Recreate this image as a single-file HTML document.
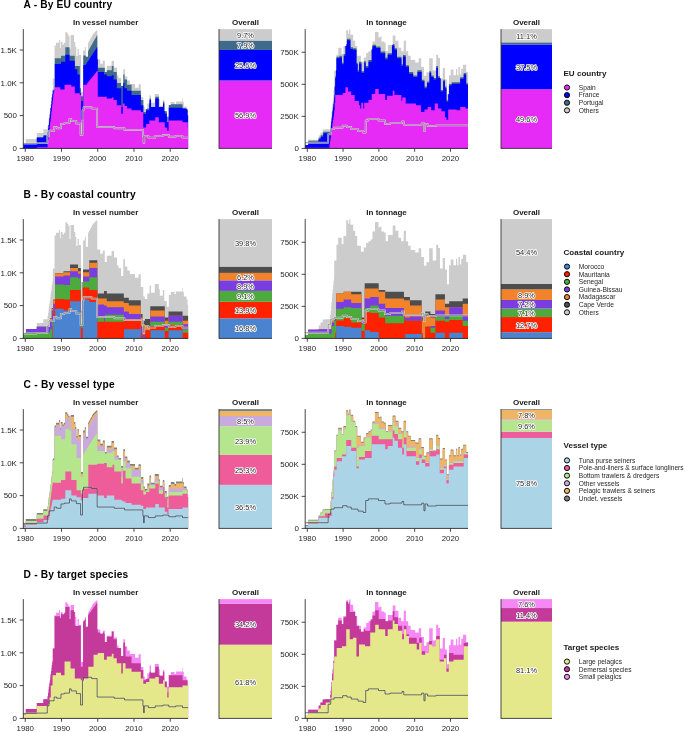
<!DOCTYPE html>
<html><head><meta charset="utf-8"><style>html,body{margin:0;padding:0;background:#fff;width:685px;height:732px;overflow:hidden}</style></head>
<body><svg width="685" height="732" viewBox="0 0 685 732" style="display:block;will-change:transform;font-family:'Liberation Sans', sans-serif"><rect width="685" height="732" fill="#fff"/><text x="23.6" y="8.1" font-size="10.2" font-weight="bold" fill="#000" textLength="88.5" lengthAdjust="spacing">A - By EU country</text><text x="105.70" y="24.55" font-size="8.0" font-weight="bold" text-anchor="middle" fill="#1a1a1a" >In vessel number</text><text x="245.50" y="24.55" font-size="8.0" font-weight="bold" text-anchor="middle" fill="#1a1a1a" >Overall</text><text x="386.60" y="24.55" font-size="8.0" font-weight="bold" text-anchor="middle" fill="#1a1a1a" >In tonnage</text><text x="526.50" y="24.55" font-size="8.0" font-weight="bold" text-anchor="middle" fill="#1a1a1a" >Overall</text><path d="M23.30,148.40L23.30,143.90L25.80,143.90L25.80,139.10L36.80,139.10L36.80,132.90L43.30,132.90L43.30,129.30L47.55,129.30L47.55,126.15L48.05,126.15L48.05,123.01L48.55,123.01L48.55,119.86L48.80,119.86L48.80,116.72L49.30,116.72L49.30,113.57L49.80,113.57L49.80,110.42L50.30,110.42L50.30,107.28L50.55,107.28L50.55,104.13L51.05,104.13L51.05,100.98L51.55,100.98L51.55,97.84L51.80,97.84L51.80,94.69L52.30,94.69L52.30,91.55L52.80,91.55L52.80,78.40L54.55,78.40L54.55,45.40L56.05,45.40L56.05,42.80L59.05,42.80L59.05,40.10L60.05,40.10L60.05,48.00L60.80,48.00L60.80,41.90L62.55,41.90L62.55,44.50L63.80,44.50L63.80,42.80L65.30,42.80L65.30,32.30L67.30,32.30L67.30,34.00L68.30,34.00L68.30,35.80L69.55,35.80L69.55,48.90L70.55,48.90L70.55,35.80L70.80,35.80L70.80,34.90L74.05,34.90L74.05,41.90L75.30,41.90L75.30,47.10L76.30,47.10L76.30,55.90L77.55,55.90L77.55,48.90L78.80,48.90L78.80,55.00L81.05,55.00L81.05,91.90L83.05,91.90L83.05,50.60L84.80,50.60L84.80,47.10L85.80,47.10L85.80,56.80L88.05,56.80L88.05,42.80L88.55,42.80L88.55,42.00L88.80,42.00L88.80,41.20L89.30,41.20L89.30,40.40L89.80,40.40L89.80,39.60L90.30,39.60L90.30,38.80L90.55,38.80L90.55,38.00L91.05,38.00L91.05,37.20L91.55,37.20L91.55,36.40L92.05,36.40L92.05,35.60L92.30,35.60L92.30,34.80L92.80,34.80L92.80,34.00L93.30,34.00L93.30,33.56L93.80,33.56L93.80,33.12L94.05,33.12L94.05,32.68L94.55,32.68L94.55,32.24L95.05,32.24L95.05,31.80L95.55,31.80L95.55,31.36L95.80,31.36L95.80,30.92L96.30,30.92L96.30,30.48L96.80,30.48L96.80,30.04L97.30,30.04L97.30,59.40L100.30,59.40L100.30,63.80L102.80,63.80L102.80,60.50L104.80,60.50L104.80,71.90L106.80,71.90L106.80,65.80L111.55,65.80L111.55,60.90L114.05,60.90L114.05,67.50L117.05,67.50L117.05,75.40L118.55,75.40L118.55,78.00L121.05,78.00L121.05,85.90L123.30,85.90L123.30,69.30L125.05,69.30L125.05,76.40L127.30,76.40L127.30,80.60L129.80,80.60L129.80,83.90L135.05,83.90L135.05,87.70L138.55,87.70L138.55,84.20L140.80,84.20L140.80,97.30L141.30,97.30L141.30,97.00L143.30,97.00L143.30,106.50L144.80,106.50L144.80,108.90L147.30,108.90L147.30,103.60L149.55,103.60L149.55,95.50L151.05,95.50L151.05,102.80L154.80,102.80L154.80,94.10L158.80,94.10L158.80,99.20L159.80,99.20L159.80,105.80L162.80,105.80L162.80,99.90L164.30,99.90L164.30,110.90L166.80,110.90L166.80,116.70L168.80,116.70L168.80,105.00L170.80,105.00L170.80,102.10L174.55,102.10L174.55,103.90L176.05,103.90L176.05,101.40L182.55,101.40L182.55,97.80L183.05,97.80L183.05,102.10L183.80,102.10L183.80,106.50L186.55,106.50L186.55,109.40L187.55,109.40L187.55,115.30L188.10,115.30L188.10,148.40Z" fill="#cccccc"/><path d="M23.30,148.40L23.30,144.11L36.80,144.11L36.80,137.46L43.55,137.46L43.55,135.41L47.80,135.41L47.80,131.97L48.05,131.97L48.05,128.53L48.55,128.53L48.55,125.09L49.05,125.09L49.05,121.65L49.30,121.65L49.30,118.21L49.80,118.21L49.80,114.77L50.30,114.77L50.30,111.33L50.55,111.33L50.55,107.90L51.05,107.90L51.05,104.46L51.55,104.46L51.55,101.02L51.80,101.02L51.80,97.58L52.30,97.58L52.30,94.14L52.80,94.14L52.80,89.85L54.80,89.85L54.80,58.28L61.05,58.28L61.05,55.72L65.30,55.72L65.30,47.18L69.55,47.18L69.55,55.72L74.80,55.72L74.80,65.96L79.80,65.96L79.80,88.14L81.05,88.14L81.05,96.16L83.30,96.16L83.30,55.38L85.80,55.38L85.80,56.80L88.05,56.80L88.05,51.23L88.30,51.23L88.30,50.50L88.80,50.50L88.80,49.78L89.05,49.78L89.05,49.05L89.55,49.05L89.55,48.32L90.05,48.32L90.05,47.60L90.30,47.60L90.30,46.87L90.80,46.87L90.80,46.14L91.05,46.14L91.05,45.41L91.55,45.41L91.55,44.69L92.05,44.69L92.05,43.96L92.30,43.96L92.30,43.23L92.80,43.23L92.80,42.51L93.30,42.51L93.30,41.78L93.55,41.78L93.55,41.05L94.05,41.05L94.05,40.33L94.55,40.33L94.55,39.60L94.80,39.60L94.80,38.87L95.30,38.87L95.30,38.15L95.80,38.15L95.80,37.42L96.05,37.42L96.05,36.69L96.55,36.69L96.55,35.97L96.80,35.97L96.80,35.24L97.30,35.24L97.30,59.40L97.80,59.40L97.80,67.66L104.80,67.66L104.80,71.90L106.80,71.90L106.80,70.22L111.80,70.22L111.80,65.96L113.55,65.96L113.55,71.93L116.80,71.93L116.80,83.02L121.05,83.02L121.05,85.90L123.30,85.90L123.30,74.49L124.55,74.49L124.55,79.61L127.05,79.61L127.05,84.73L131.55,84.73L131.55,90.70L140.80,90.70L140.80,100.09L143.30,100.09L143.30,112.03L146.05,112.03L146.05,108.90L147.30,108.90L147.30,108.62L149.30,108.62L149.30,103.60L149.55,103.60L149.55,98.38L151.05,98.38L151.05,106.91L155.30,106.91L155.30,96.67L158.80,96.67L158.80,106.91L163.05,106.91L163.05,101.79L164.30,101.79L164.30,110.90L164.80,110.90L164.80,111.18L166.80,111.18L166.80,116.70L167.30,116.70L167.30,122.27L168.55,122.27L168.55,116.70L168.80,116.70L168.80,105.00L170.80,105.00L170.80,104.35L182.55,104.35L182.55,108.62L186.55,108.62L186.55,109.40L187.55,109.40L187.55,115.30L188.10,115.30L188.10,148.40Z" fill="#3f6a8c"/><path d="M23.30,148.40L23.30,144.11L36.80,144.11L36.80,137.46L43.55,137.46L43.55,135.41L47.80,135.41L47.80,131.97L48.05,131.97L48.05,128.53L48.55,128.53L48.55,125.09L49.05,125.09L49.05,121.65L49.30,121.65L49.30,118.21L49.80,118.21L49.80,114.77L50.30,114.77L50.30,111.33L50.55,111.33L50.55,107.90L51.05,107.90L51.05,104.46L51.55,104.46L51.55,101.02L51.80,101.02L51.80,97.58L52.30,97.58L52.30,94.14L52.80,94.14L52.80,90.70L54.80,90.70L54.80,63.91L61.05,63.91L61.05,61.69L65.30,61.69L65.30,54.86L69.55,54.86L69.55,60.84L74.80,60.84L74.80,69.37L77.30,69.37L77.30,74.49L79.80,74.49L79.80,93.26L81.05,93.26L81.05,101.11L83.30,101.11L83.30,65.10L85.80,65.10L85.80,64.25L86.30,64.25L86.30,63.62L86.55,63.62L86.55,62.99L87.05,62.99L87.05,62.35L87.55,62.35L87.55,61.72L87.80,61.72L87.80,61.09L88.30,61.09L88.30,60.46L88.80,60.46L88.80,59.82L89.05,59.82L89.05,59.19L89.55,59.19L89.55,58.56L90.05,58.56L90.05,57.93L90.30,57.93L90.30,57.30L90.80,57.30L90.80,56.66L91.05,56.66L91.05,56.03L91.55,56.03L91.55,55.40L92.05,55.40L92.05,54.77L92.30,54.77L92.30,54.14L92.80,54.14L92.80,53.50L93.30,53.50L93.30,52.87L93.55,52.87L93.55,52.24L94.05,52.24L94.05,51.61L94.55,51.61L94.55,50.98L94.80,50.98L94.80,50.34L95.30,50.34L95.30,49.71L95.80,49.71L95.80,49.08L96.05,49.08L96.05,48.45L96.55,48.45L96.55,47.82L96.80,47.82L96.80,47.18L97.30,47.18L97.30,59.40L97.80,59.40L97.80,71.93L104.05,71.93L104.05,74.49L106.80,74.49L106.80,76.19L111.80,76.19L111.80,75.34L113.55,75.34L113.55,79.61L116.80,79.61L116.80,88.14L121.30,88.14L121.30,106.91L122.80,106.91L122.80,85.90L123.30,85.90L123.30,83.02L124.55,83.02L124.55,88.14L127.05,88.14L127.05,90.70L131.55,90.70L131.55,94.97L140.80,94.97L140.80,105.20L143.30,105.20L143.30,113.74L146.05,113.74L146.05,110.32L149.30,110.32L149.30,103.60L149.55,103.60L149.55,100.09L151.05,100.09L151.05,106.91L155.30,106.91L155.30,98.38L158.80,98.38L158.80,106.91L163.05,106.91L163.05,103.50L164.30,103.50L164.30,110.90L164.80,110.90L164.80,113.74L166.80,113.74L166.80,116.70L167.30,116.70L167.30,122.27L168.55,122.27L168.55,116.70L168.80,116.70L168.80,107.76L182.55,107.76L182.55,108.62L186.55,108.62L186.55,109.40L187.55,109.40L187.55,115.30L188.10,115.30L188.10,148.40Z" fill="#0000ff"/><path d="M23.30,148.40L23.30,148.38L36.80,148.38L36.80,147.35L47.30,147.35L47.30,147.18L47.55,147.18L47.55,143.62L48.05,143.62L48.05,140.05L48.55,140.05L48.55,136.49L48.80,136.49L48.80,132.93L49.30,132.93L49.30,129.36L49.80,129.36L49.80,125.80L50.05,125.80L50.05,122.23L50.55,122.23L50.55,118.67L51.05,118.67L51.05,115.10L51.30,115.10L51.30,111.54L51.80,111.54L51.80,107.97L52.05,107.97L52.05,104.41L52.55,104.41L52.55,100.84L53.05,100.84L53.05,97.28L53.30,97.28L53.30,93.71L53.80,93.71L53.80,90.70L54.80,90.70L54.80,87.29L60.30,87.29L60.30,89.51L64.55,89.51L64.55,84.73L71.30,84.73L71.30,86.43L74.80,86.43L74.80,93.26L79.80,93.26L79.80,94.97L81.05,94.97L81.05,119.71L83.30,119.71L83.30,84.73L86.80,84.73L86.80,83.87L87.05,83.87L87.05,83.36L87.55,83.36L87.55,82.85L87.80,82.85L87.80,82.34L88.30,82.34L88.30,81.83L88.80,81.83L88.80,81.31L89.05,81.31L89.05,80.80L89.55,80.80L89.55,80.29L90.05,80.29L90.05,79.78L90.30,79.78L90.30,79.27L90.80,79.27L90.80,78.75L91.30,78.75L91.30,78.24L91.55,78.24L91.55,77.73L92.05,77.73L92.05,77.22L92.30,77.22L92.30,76.71L92.80,76.71L92.80,76.19L93.30,76.19L93.30,75.68L93.55,75.68L93.55,75.17L94.05,75.17L94.05,74.66L94.55,74.66L94.55,74.15L94.80,74.15L94.80,73.63L95.30,73.63L95.30,73.12L95.80,73.12L95.80,72.61L96.05,72.61L96.05,72.10L96.55,72.10L96.55,71.59L96.80,71.59L96.80,71.08L97.80,71.08L97.80,96.67L106.80,96.67L106.80,98.38L111.80,98.38L111.80,97.53L113.55,97.53L113.55,100.09L116.80,100.09L116.80,105.20L121.30,105.20L121.30,113.74L122.80,113.74L122.80,103.50L124.55,103.50L124.55,106.06L127.05,106.06L127.05,108.62L131.55,108.62L131.55,110.32L140.80,110.32L140.80,112.03L143.30,112.03L143.30,127.39L146.05,127.39L146.05,123.98L149.30,123.98L149.30,120.56L155.30,120.56L155.30,117.15L158.80,117.15L158.80,122.27L164.80,122.27L164.80,127.39L167.30,127.39L167.30,130.80L168.55,130.80L168.55,120.56L182.55,120.56L182.55,122.27L187.80,122.27L187.80,127.39L188.10,127.39L188.10,148.40Z" fill="#e52bf5"/><path d="M23.30,143.43L36.72,143.43L36.72,143.09L47.30,143.09L47.30,135.92L49.01,135.92L49.01,130.80L54.13,130.80L54.13,127.05L56.69,127.05L56.69,128.24L60.96,128.24L60.96,123.98L64.37,123.98L64.37,123.12L69.49,123.12L69.49,118.86L71.19,118.86L71.19,120.90L76.31,120.90L76.31,123.63L80.58,123.63L80.58,135.07L82.46,135.07L82.46,110.32L83.48,110.32L83.48,107.25L91.67,107.25L91.67,108.62L97.13,108.62L97.13,127.05L104.00,127.05L104.00,127.05L114.24,127.05L114.24,128.24L124.48,128.24L124.48,129.95L142.91,129.95L142.91,135.92L143.59,135.92L143.59,142.75L144.27,142.75L144.27,135.92L148.37,135.92L148.37,137.63L155.19,137.63L155.19,135.92L162.87,135.92L162.87,135.07L168.85,135.07L168.85,136.77L175.67,136.77L175.67,135.92L182.50,135.92L182.50,137.63L188.10,137.63" fill="none" stroke="#ffffff" stroke-opacity="0.7" stroke-width="1.9" stroke-linejoin="round"/><path d="M23.30,143.43L36.72,143.43L36.72,143.09L47.30,143.09L47.30,135.92L49.01,135.92L49.01,130.80L54.13,130.80L54.13,127.05L56.69,127.05L56.69,128.24L60.96,128.24L60.96,123.98L64.37,123.98L64.37,123.12L69.49,123.12L69.49,118.86L71.19,118.86L71.19,120.90L76.31,120.90L76.31,123.63L80.58,123.63L80.58,135.07L82.46,135.07L82.46,110.32L83.48,110.32L83.48,107.25L91.67,107.25L91.67,108.62L97.13,108.62L97.13,127.05L104.00,127.05L104.00,127.05L114.24,127.05L114.24,128.24L124.48,128.24L124.48,129.95L142.91,129.95L142.91,135.92L143.59,135.92L143.59,142.75L144.27,142.75L144.27,135.92L148.37,135.92L148.37,137.63L155.19,137.63L155.19,135.92L162.87,135.92L162.87,135.07L168.85,135.07L168.85,136.77L175.67,136.77L175.67,135.92L182.50,135.92L182.50,137.63L188.10,137.63" fill="none" stroke="#6a6a6a" stroke-width="0.7" stroke-linejoin="round"/><line x1="23.3" y1="29.1" x2="23.3" y2="148.9" stroke="#333333" stroke-width="0.9"/><line x1="19.7" y1="148.40" x2="23.3" y2="148.40" stroke="#333333" stroke-width="0.9"/><text x="16.90" y="151.25" font-size="7.95" font-weight="normal" text-anchor="end" fill="#262626" >0</text><line x1="19.7" y1="115.60" x2="23.3" y2="115.60" stroke="#333333" stroke-width="0.9"/><text x="16.90" y="118.45" font-size="7.95" font-weight="normal" text-anchor="end" fill="#262626" >500</text><line x1="19.7" y1="82.80" x2="23.3" y2="82.80" stroke="#333333" stroke-width="0.9"/><text x="16.90" y="85.65" font-size="7.95" font-weight="normal" text-anchor="end" fill="#262626" >1.0K</text><line x1="19.7" y1="50.00" x2="23.3" y2="50.00" stroke="#333333" stroke-width="0.9"/><text x="16.90" y="52.85" font-size="7.95" font-weight="normal" text-anchor="end" fill="#262626" >1.5K</text><line x1="23.3" y1="148.4" x2="188.1" y2="148.4" stroke="#333333" stroke-width="0.9"/><line x1="25.25" y1="148.4" x2="25.25" y2="151.8" stroke="#333333" stroke-width="0.9"/><text x="25.25" y="161.15" font-size="7.85" font-weight="normal" text-anchor="middle" fill="#262626" >1980</text><line x1="61.49" y1="148.4" x2="61.49" y2="151.8" stroke="#333333" stroke-width="0.9"/><text x="61.49" y="161.15" font-size="7.85" font-weight="normal" text-anchor="middle" fill="#262626" >1990</text><line x1="97.73" y1="148.4" x2="97.73" y2="151.8" stroke="#333333" stroke-width="0.9"/><text x="97.73" y="161.15" font-size="7.85" font-weight="normal" text-anchor="middle" fill="#262626" >2000</text><line x1="133.97" y1="148.4" x2="133.97" y2="151.8" stroke="#333333" stroke-width="0.9"/><text x="133.97" y="161.15" font-size="7.85" font-weight="normal" text-anchor="middle" fill="#262626" >2010</text><line x1="170.21" y1="148.4" x2="170.21" y2="151.8" stroke="#333333" stroke-width="0.9"/><text x="170.21" y="161.15" font-size="7.85" font-weight="normal" text-anchor="middle" fill="#262626" >2020</text><path d="M305.20,148.40L305.20,145.00L308.20,145.00L308.20,139.80L318.70,139.80L318.70,135.60L320.45,135.60L320.45,132.40L322.70,132.40L322.70,129.60L324.95,129.60L324.95,129.20L330.20,129.20L330.20,124.92L330.70,124.92L330.70,120.64L331.20,120.64L331.20,116.36L331.45,116.36L331.45,112.08L331.95,112.08L331.95,107.80L332.20,107.80L332.20,103.52L332.70,103.52L332.70,99.24L333.20,99.24L333.20,94.96L333.45,94.96L333.45,90.68L333.95,90.68L333.95,86.40L334.20,86.40L334.20,70.50L336.45,70.50L336.45,54.80L338.20,54.80L338.20,47.80L341.70,47.80L341.70,53.90L343.45,53.90L343.45,46.00L346.20,46.00L346.20,30.30L348.20,30.30L348.20,33.80L349.20,33.80L349.20,29.40L350.45,29.40L350.45,34.80L353.20,34.80L353.20,40.80L355.20,40.80L355.20,46.00L357.20,46.00L357.20,55.70L360.95,55.70L360.95,61.80L363.70,61.80L363.70,57.40L366.20,57.40L366.20,53.00L368.45,53.00L368.45,51.30L370.70,51.30L370.70,49.50L372.45,49.50L372.45,41.60L374.95,41.60L374.95,32.00L378.45,32.00L378.45,37.30L380.20,37.30L380.20,36.40L381.45,36.40L381.45,41.60L383.95,41.60L383.95,42.50L385.70,42.50L385.70,51.30L387.95,51.30L387.95,45.10L392.70,45.10L392.70,35.50L395.45,35.50L395.45,40.80L398.45,40.80L398.45,47.80L401.20,47.80L401.20,51.30L403.70,51.30L403.70,40.80L405.95,40.80L405.95,51.30L408.20,51.30L408.20,55.70L410.70,55.70L410.70,60.00L415.20,60.00L415.20,62.60L418.70,62.60L418.70,58.30L421.20,58.30L421.20,67.00L423.95,67.00L423.95,75.80L426.45,75.80L426.45,72.30L429.20,72.30L429.20,58.30L432.70,58.30L432.70,70.40L436.20,70.40L436.20,54.80L438.20,54.80L438.20,58.10L439.95,58.10L439.95,78.60L442.70,78.60L442.70,68.00L444.95,68.00L444.95,79.40L446.95,79.40L446.95,94.20L448.95,94.20L448.95,75.30L450.70,75.30L450.70,69.60L453.45,69.60L453.45,75.30L455.95,75.30L455.95,68.80L457.20,68.80L457.20,75.30L458.45,75.30L458.45,67.10L459.95,67.10L459.95,74.50L461.20,74.50L461.20,68.80L462.95,68.80L462.95,64.70L466.20,64.70L466.20,72.00L468.00,72.00L468.00,148.40Z" fill="#cccccc"/><path d="M305.20,148.40L305.20,145.00L308.20,145.00L308.20,140.81L318.45,140.81L318.45,139.80L318.70,139.80L318.70,137.73L320.70,137.73L320.70,135.17L323.20,135.17L323.20,131.76L329.95,131.76L329.95,131.42L330.45,131.42L330.45,127.79L330.95,127.79L330.95,124.15L331.20,124.15L331.20,120.52L331.70,120.52L331.70,116.88L332.20,116.88L332.20,113.25L332.45,113.25L332.45,109.61L332.95,109.61L332.95,105.98L333.45,105.98L333.45,102.34L333.95,102.34L333.95,98.71L334.20,98.71L334.20,95.07L334.70,95.07L334.70,85.69L335.20,85.69L335.20,76.30L335.95,76.30L335.95,70.50L336.45,70.50L336.45,56.68L339.45,56.68L339.45,55.82L341.95,55.82L341.95,62.65L343.70,62.65L343.70,54.12L345.45,54.12L345.45,46.00L346.20,46.00L346.20,43.88L346.95,43.88L346.95,38.76L350.45,38.76L350.45,47.29L352.95,47.29L352.95,48.14L356.45,48.14L356.45,62.65L357.70,62.65L357.70,70.33L358.95,70.33L358.95,61.80L360.95,61.80L360.95,61.80L361.45,61.80L361.45,71.18L364.20,71.18L364.20,60.94L365.70,60.94L365.70,66.06L368.45,66.06L368.45,60.09L371.70,60.09L371.70,49.50L372.45,49.50L372.45,44.73L375.95,44.73L375.95,46.44L380.45,46.44L380.45,51.56L385.20,51.56L385.20,57.53L387.70,57.53L387.70,53.26L391.95,53.26L391.95,45.10L392.70,45.10L392.70,43.88L394.45,43.88L394.45,48.14L396.95,48.14L396.95,56.68L401.45,56.68L401.45,64.36L402.95,64.36L402.95,54.97L405.70,54.97L405.70,65.21L408.95,65.21L408.95,72.03L413.20,72.03L413.20,75.45L417.45,75.45L417.45,70.33L421.70,70.33L421.70,79.71L424.45,79.71L424.45,86.54L426.95,86.54L426.95,81.42L429.45,81.42L429.45,71.18L431.20,71.18L431.20,75.45L433.70,75.45L433.70,78.01L436.20,78.01L436.20,66.06L437.95,66.06L437.95,76.30L439.95,76.30L439.95,78.60L440.70,78.60L440.70,89.95L443.20,89.95L443.20,79.71L444.95,79.71L444.95,86.54L446.45,86.54L446.45,100.19L448.20,100.19L448.20,94.20L448.95,94.20L448.95,83.98L451.70,83.98L451.70,82.27L460.20,82.27L460.20,77.15L463.70,77.15L463.70,72.89L466.20,72.89L466.20,83.13L468.00,83.13L468.00,148.40Z" fill="#3f6a8c"/><path d="M305.20,148.40L305.20,145.00L308.20,145.00L308.20,142.41L318.45,142.41L318.45,139.80L318.70,139.80L318.70,139.33L320.70,139.33L320.70,136.77L323.20,136.77L323.20,133.36L329.95,133.36L329.95,133.02L330.45,133.02L330.45,129.39L330.95,129.39L330.95,125.75L331.20,125.75L331.20,122.12L331.70,122.12L331.70,118.48L332.20,118.48L332.20,114.85L332.45,114.85L332.45,111.21L332.95,111.21L332.95,107.58L333.45,107.58L333.45,103.94L333.95,103.94L333.95,100.31L334.20,100.31L334.20,96.67L334.70,96.67L334.70,87.29L335.20,87.29L335.20,77.90L335.95,77.90L335.95,70.50L336.45,70.50L336.45,58.28L339.45,58.28L339.45,57.42L341.95,57.42L341.95,64.25L343.70,64.25L343.70,55.72L345.45,55.72L345.45,46.00L346.20,46.00L346.20,45.48L346.95,45.48L346.95,40.36L350.45,40.36L350.45,48.89L352.95,48.89L352.95,49.74L356.45,49.74L356.45,64.25L357.70,64.25L357.70,71.93L358.95,71.93L358.95,63.40L361.45,63.40L361.45,72.78L364.20,72.78L364.20,62.54L365.70,62.54L365.70,67.66L368.45,67.66L368.45,61.69L371.70,61.69L371.70,49.50L372.45,49.50L372.45,46.33L375.95,46.33L375.95,48.04L380.45,48.04L380.45,53.16L385.20,53.16L385.20,59.13L387.70,59.13L387.70,54.86L391.95,54.86L391.95,45.48L394.45,45.48L394.45,49.74L396.95,49.74L396.95,58.28L401.45,58.28L401.45,65.96L402.95,65.96L402.95,56.57L405.70,56.57L405.70,66.81L408.95,66.81L408.95,73.63L413.20,73.63L413.20,77.05L417.45,77.05L417.45,71.93L421.70,71.93L421.70,81.31L424.45,81.31L424.45,88.14L426.95,88.14L426.95,83.02L429.45,83.02L429.45,72.78L431.20,72.78L431.20,77.05L433.70,77.05L433.70,79.61L436.20,79.61L436.20,67.66L437.95,67.66L437.95,77.90L439.95,77.90L439.95,78.60L440.70,78.60L440.70,91.55L443.20,91.55L443.20,81.31L444.95,81.31L444.95,88.14L446.45,88.14L446.45,101.79L448.20,101.79L448.20,94.20L448.95,94.20L448.95,85.58L451.70,85.58L451.70,83.87L460.20,83.87L460.20,78.75L463.70,78.75L463.70,74.49L466.20,74.49L466.20,84.73L468.00,84.73L468.00,148.40Z" fill="#0000ff"/><path d="M305.20,148.40L305.20,147.70L329.45,147.70L329.45,144.58L329.95,144.58L329.95,141.47L330.45,141.47L330.45,138.35L330.95,138.35L330.95,135.24L331.20,135.24L331.20,132.12L331.70,132.12L331.70,129.01L332.20,129.01L332.20,125.90L332.45,125.90L332.45,122.78L332.95,122.78L332.95,119.67L333.45,119.67L333.45,116.55L333.95,116.55L333.95,113.44L334.20,113.44L334.20,110.32L334.70,110.32L334.70,102.65L335.20,102.65L335.20,94.97L342.70,94.97L342.70,92.92L345.45,92.92L345.45,87.29L347.95,87.29L347.95,91.55L351.20,91.55L351.20,94.97L354.70,94.97L354.70,100.94L358.95,100.94L358.95,105.20L360.20,105.20L360.20,108.62L361.20,108.62L361.20,102.65L363.20,102.65L363.20,108.62L364.20,108.62L364.20,102.65L368.45,102.65L368.45,100.09L371.70,100.09L371.70,94.11L375.20,94.11L375.20,88.99L378.70,88.99L378.70,94.11L385.20,94.11L385.20,100.09L386.95,100.09L386.95,95.82L392.70,95.82L392.70,90.70L394.45,90.70L394.45,94.97L401.45,94.97L401.45,100.94L402.20,100.94L402.20,97.53L405.70,97.53L405.70,103.50L415.95,103.50L415.95,105.20L420.95,105.20L420.95,112.03L424.45,112.03L424.45,109.47L427.70,109.47L427.70,106.91L431.20,106.91L431.20,110.32L434.70,110.32L434.70,103.50L437.95,103.50L437.95,108.62L441.45,108.62L441.45,111.18L444.95,111.18L444.95,117.15L446.45,117.15L446.45,119.71L448.20,119.71L448.20,109.47L456.70,109.47L456.70,110.32L460.20,110.32L460.20,106.91L465.45,106.91L465.45,108.62L468.00,108.62L468.00,148.40Z" fill="#e52bf5"/><path d="M305.20,142.75L328.16,142.75L328.16,134.22L330.72,134.22L330.72,129.10L334.13,129.10L334.13,127.73L342.66,127.73L342.66,125.68L346.93,125.68L346.93,127.05L351.19,127.05L351.19,129.10L358.02,129.10L358.02,131.14L363.14,131.14L363.14,132.51L365.70,132.51L365.70,120.56L368.26,120.56L368.26,118.86L378.50,118.86L378.50,120.56L385.00,120.56L385.00,123.98L390.12,123.98L390.12,123.12L402.06,123.12L402.06,121.42L403.77,121.42L403.77,124.83L412.30,124.83L412.30,124.83L421.69,124.83L421.69,123.12L423.91,123.12L423.91,130.80L425.10,130.80L425.10,123.98L427.66,123.98L427.66,126.02L436.19,126.02L436.19,125.34L468.00,125.34" fill="none" stroke="#ffffff" stroke-opacity="0.7" stroke-width="1.9" stroke-linejoin="round"/><path d="M305.20,142.75L328.16,142.75L328.16,134.22L330.72,134.22L330.72,129.10L334.13,129.10L334.13,127.73L342.66,127.73L342.66,125.68L346.93,125.68L346.93,127.05L351.19,127.05L351.19,129.10L358.02,129.10L358.02,131.14L363.14,131.14L363.14,132.51L365.70,132.51L365.70,120.56L368.26,120.56L368.26,118.86L378.50,118.86L378.50,120.56L385.00,120.56L385.00,123.98L390.12,123.98L390.12,123.12L402.06,123.12L402.06,121.42L403.77,121.42L403.77,124.83L412.30,124.83L412.30,124.83L421.69,124.83L421.69,123.12L423.91,123.12L423.91,130.80L425.10,130.80L425.10,123.98L427.66,123.98L427.66,126.02L436.19,126.02L436.19,125.34L468.00,125.34" fill="none" stroke="#6a6a6a" stroke-width="0.7" stroke-linejoin="round"/><line x1="305.2" y1="29.1" x2="305.2" y2="148.9" stroke="#333333" stroke-width="0.9"/><line x1="301.59999999999997" y1="148.40" x2="305.2" y2="148.40" stroke="#333333" stroke-width="0.9"/><text x="298.80" y="151.25" font-size="7.95" font-weight="normal" text-anchor="end" fill="#262626" >0</text><line x1="301.59999999999997" y1="116.35" x2="305.2" y2="116.35" stroke="#333333" stroke-width="0.9"/><text x="298.80" y="119.20" font-size="7.95" font-weight="normal" text-anchor="end" fill="#262626" >250K</text><line x1="301.59999999999997" y1="84.30" x2="305.2" y2="84.30" stroke="#333333" stroke-width="0.9"/><text x="298.80" y="87.15" font-size="7.95" font-weight="normal" text-anchor="end" fill="#262626" >500K</text><line x1="301.59999999999997" y1="52.25" x2="305.2" y2="52.25" stroke="#333333" stroke-width="0.9"/><text x="298.80" y="55.10" font-size="7.95" font-weight="normal" text-anchor="end" fill="#262626" >750K</text><line x1="305.2" y1="148.4" x2="468.0" y2="148.4" stroke="#333333" stroke-width="0.9"/><line x1="307.30" y1="148.4" x2="307.30" y2="151.8" stroke="#333333" stroke-width="0.9"/><text x="307.30" y="161.15" font-size="7.85" font-weight="normal" text-anchor="middle" fill="#262626" >1980</text><line x1="343.09" y1="148.4" x2="343.09" y2="151.8" stroke="#333333" stroke-width="0.9"/><text x="343.09" y="161.15" font-size="7.85" font-weight="normal" text-anchor="middle" fill="#262626" >1990</text><line x1="378.88" y1="148.4" x2="378.88" y2="151.8" stroke="#333333" stroke-width="0.9"/><text x="378.88" y="161.15" font-size="7.85" font-weight="normal" text-anchor="middle" fill="#262626" >2000</text><line x1="414.67" y1="148.4" x2="414.67" y2="151.8" stroke="#333333" stroke-width="0.9"/><text x="414.67" y="161.15" font-size="7.85" font-weight="normal" text-anchor="middle" fill="#262626" >2010</text><line x1="450.46" y1="148.4" x2="450.46" y2="151.8" stroke="#333333" stroke-width="0.9"/><text x="450.46" y="161.15" font-size="7.85" font-weight="normal" text-anchor="middle" fill="#262626" >2020</text><rect x="219.0" y="80.52" width="53.0" height="67.88" fill="#e52bf5"/><rect x="219.0" y="49.98" width="53.0" height="30.54" fill="#0000ff"/><rect x="219.0" y="40.55" width="53.0" height="9.42" fill="#3f6a8c"/><rect x="219.0" y="29.10" width="53.0" height="11.45" fill="#cccccc"/><text x="245.50" y="117.56" font-size="7.45" text-anchor="middle" fill="#2a2a2a" stroke="#fff" stroke-width="1.7" stroke-linejoin="round" paint-order="stroke">56.9%</text><text x="245.50" y="68.35" font-size="7.45" text-anchor="middle" fill="#2a2a2a" stroke="#fff" stroke-width="1.7" stroke-linejoin="round" paint-order="stroke">25.6%</text><text x="245.50" y="48.37" font-size="7.45" text-anchor="middle" fill="#2a2a2a" stroke="#fff" stroke-width="1.7" stroke-linejoin="round" paint-order="stroke">7.9%</text><text x="245.50" y="37.93" font-size="7.45" text-anchor="middle" fill="#2a2a2a" stroke="#fff" stroke-width="1.7" stroke-linejoin="round" paint-order="stroke">9.7%</text><line x1="219.0" y1="29.1" x2="219.0" y2="148.8" stroke="#333333" stroke-width="0.9"/><line x1="219.0" y1="148.4" x2="272.0" y2="148.4" stroke="#333333" stroke-width="0.9"/><rect x="501.0" y="89.23" width="51.0" height="59.17" fill="#e52bf5"/><rect x="501.0" y="44.49" width="51.0" height="44.74" fill="#0000ff"/><rect x="501.0" y="42.34" width="51.0" height="2.15" fill="#3f6a8c"/><rect x="501.0" y="29.10" width="51.0" height="13.24" fill="#cccccc"/><text x="526.50" y="121.91" font-size="7.45" text-anchor="middle" fill="#2a2a2a" stroke="#fff" stroke-width="1.7" stroke-linejoin="round" paint-order="stroke">49.6%</text><text x="526.50" y="69.96" font-size="7.45" text-anchor="middle" fill="#2a2a2a" stroke="#fff" stroke-width="1.7" stroke-linejoin="round" paint-order="stroke">37.5%</text><text x="526.50" y="38.82" font-size="7.45" text-anchor="middle" fill="#2a2a2a" stroke="#fff" stroke-width="1.7" stroke-linejoin="round" paint-order="stroke">11.1%</text><line x1="501.0" y1="29.1" x2="501.0" y2="148.8" stroke="#333333" stroke-width="0.9"/><line x1="501.0" y1="148.4" x2="552.0" y2="148.4" stroke="#333333" stroke-width="0.9"/><text x="563.50" y="75.80" font-size="8.05" font-weight="bold" text-anchor="start" fill="#1a1a1a" >EU country</text><circle cx="567" cy="87.50" r="2.6" fill="#e52bf5" stroke="#000" stroke-width="0.95"/><text x="578.80" y="89.85" font-size="6.65" font-weight="normal" text-anchor="start" fill="#262626" >Spain</text><circle cx="567" cy="95.12" r="2.6" fill="#0000ff" stroke="#000" stroke-width="0.95"/><text x="578.80" y="97.47" font-size="6.65" font-weight="normal" text-anchor="start" fill="#262626" >France</text><circle cx="567" cy="102.74" r="2.6" fill="#3f6a8c" stroke="#000" stroke-width="0.95"/><text x="578.80" y="105.09" font-size="6.65" font-weight="normal" text-anchor="start" fill="#262626" >Portugal</text><circle cx="567" cy="110.36" r="2.6" fill="#cccccc" stroke="#000" stroke-width="0.95"/><text x="578.80" y="112.71" font-size="6.65" font-weight="normal" text-anchor="start" fill="#262626" >Others</text><text x="23.6" y="198.1" font-size="10.2" font-weight="bold" fill="#000" textLength="112.0" lengthAdjust="spacing">B - By coastal country</text><text x="105.70" y="214.55" font-size="8.0" font-weight="bold" text-anchor="middle" fill="#1a1a1a" >In vessel number</text><text x="245.50" y="214.55" font-size="8.0" font-weight="bold" text-anchor="middle" fill="#1a1a1a" >Overall</text><text x="386.60" y="214.55" font-size="8.0" font-weight="bold" text-anchor="middle" fill="#1a1a1a" >In tonnage</text><text x="526.50" y="214.55" font-size="8.0" font-weight="bold" text-anchor="middle" fill="#1a1a1a" >Overall</text><path d="M23.30,338.40L23.30,333.90L25.80,333.90L25.80,329.10L36.80,329.10L36.80,322.90L43.30,322.90L43.30,319.30L47.55,319.30L47.55,316.15L48.05,316.15L48.05,313.01L48.55,313.01L48.55,309.86L48.80,309.86L48.80,306.72L49.30,306.72L49.30,303.57L49.80,303.57L49.80,300.42L50.30,300.42L50.30,297.28L50.55,297.28L50.55,294.13L51.05,294.13L51.05,290.98L51.55,290.98L51.55,287.84L51.80,287.84L51.80,284.69L52.30,284.69L52.30,281.55L52.80,281.55L52.80,268.40L54.55,268.40L54.55,235.40L56.05,235.40L56.05,232.80L59.05,232.80L59.05,230.10L60.05,230.10L60.05,238.00L60.80,238.00L60.80,231.90L62.55,231.90L62.55,234.50L63.80,234.50L63.80,232.80L65.30,232.80L65.30,222.30L67.30,222.30L67.30,224.00L68.30,224.00L68.30,225.80L69.55,225.80L69.55,238.90L70.55,238.90L70.55,225.80L70.80,225.80L70.80,224.90L74.05,224.90L74.05,231.90L75.30,231.90L75.30,237.10L76.30,237.10L76.30,245.90L77.55,245.90L77.55,238.90L78.80,238.90L78.80,245.00L81.05,245.00L81.05,281.90L83.05,281.90L83.05,240.60L84.80,240.60L84.80,237.10L85.80,237.10L85.80,246.80L88.05,246.80L88.05,232.80L88.55,232.80L88.55,232.00L88.80,232.00L88.80,231.20L89.30,231.20L89.30,230.40L89.80,230.40L89.80,229.60L90.30,229.60L90.30,228.80L90.55,228.80L90.55,228.00L91.05,228.00L91.05,227.20L91.55,227.20L91.55,226.40L92.05,226.40L92.05,225.60L92.30,225.60L92.30,224.80L92.80,224.80L92.80,224.00L93.30,224.00L93.30,223.56L93.80,223.56L93.80,223.12L94.05,223.12L94.05,222.68L94.55,222.68L94.55,222.24L95.05,222.24L95.05,221.80L95.55,221.80L95.55,221.36L95.80,221.36L95.80,220.92L96.30,220.92L96.30,220.48L96.80,220.48L96.80,220.04L97.30,220.04L97.30,249.40L100.30,249.40L100.30,253.80L102.80,253.80L102.80,250.50L104.80,250.50L104.80,261.90L106.80,261.90L106.80,255.80L111.55,255.80L111.55,250.90L114.05,250.90L114.05,257.50L117.05,257.50L117.05,265.40L118.55,265.40L118.55,268.00L121.05,268.00L121.05,275.90L123.30,275.90L123.30,259.30L125.05,259.30L125.05,266.40L127.30,266.40L127.30,270.60L129.80,270.60L129.80,273.90L135.05,273.90L135.05,277.70L138.55,277.70L138.55,274.20L140.80,274.20L140.80,287.30L141.30,287.30L141.30,287.00L143.30,287.00L143.30,296.50L144.80,296.50L144.80,298.90L147.30,298.90L147.30,293.60L149.55,293.60L149.55,285.50L151.05,285.50L151.05,292.80L154.80,292.80L154.80,284.10L158.80,284.10L158.80,289.20L159.80,289.20L159.80,295.80L162.80,295.80L162.80,289.90L164.30,289.90L164.30,300.90L166.80,300.90L166.80,306.70L168.80,306.70L168.80,295.00L170.80,295.00L170.80,292.10L174.55,292.10L174.55,293.90L176.05,293.90L176.05,291.40L182.55,291.40L182.55,287.80L183.05,287.80L183.05,292.10L183.80,292.10L183.80,296.50L186.55,296.50L186.55,299.40L187.55,299.40L187.55,305.30L188.10,305.30L188.10,338.40Z" fill="#cccccc"/><path d="M23.30,338.40L23.30,333.90L25.80,333.90L25.80,332.41L26.05,332.41L26.05,329.10L36.80,329.10L36.80,326.77L50.05,326.77L50.05,318.24L51.80,318.24L51.80,308.00L53.30,308.00L53.30,299.47L55.05,299.47L55.05,273.02L63.55,273.02L63.55,271.31L70.05,271.31L70.05,264.49L78.05,264.49L78.05,267.90L80.80,267.90L80.80,311.42L82.80,311.42L82.80,281.90L83.05,281.90L83.05,269.61L89.30,269.61L89.30,260.22L97.30,260.22L97.30,293.50L104.05,293.50L104.05,290.94L106.80,290.94L106.80,293.50L123.80,293.50L123.80,297.76L128.80,297.76L128.80,300.32L140.80,300.32L140.80,313.98L142.55,313.98L142.55,320.80L145.05,320.80L145.05,319.10L150.30,319.10L150.30,306.30L164.80,306.30L164.80,317.39L168.55,317.39L168.55,311.42L182.55,311.42L182.55,315.68L188.10,315.68L188.10,338.40Z" fill="#4d4d4d"/><path d="M23.30,338.40L23.30,333.90L25.80,333.90L25.80,332.41L26.05,332.41L26.05,329.10L36.80,329.10L36.80,326.77L50.05,326.77L50.05,319.10L51.80,319.10L51.80,308.86L53.30,308.86L53.30,300.32L55.05,300.32L55.05,273.36L63.55,273.36L63.55,272.17L70.05,272.17L70.05,267.90L78.05,267.90L78.05,271.31L80.80,271.31L80.80,312.27L82.80,312.27L82.80,281.90L83.05,281.90L83.05,272.17L89.30,272.17L89.30,262.78L97.30,262.78L97.30,298.62L106.80,298.62L106.80,301.18L123.80,301.18L123.80,302.88L128.80,302.88L128.80,305.44L140.80,305.44L140.80,317.39L142.55,317.39L142.55,324.22L145.05,324.22L145.05,325.92L150.30,325.92L150.30,310.56L164.80,310.56L164.80,320.80L168.55,320.80L168.55,315.68L182.55,315.68L182.55,320.80L188.10,320.80L188.10,338.40Z" fill="#f2832a"/><path d="M23.30,338.40L23.30,333.90L25.80,333.90L25.80,332.41L26.05,332.41L26.05,329.10L36.80,329.10L36.80,326.77L50.05,326.77L50.05,320.80L51.80,320.80L51.80,310.56L53.30,310.56L53.30,303.74L55.05,303.74L55.05,276.43L63.55,276.43L63.55,275.58L70.05,275.58L70.05,271.31L78.05,271.31L78.05,273.87L80.80,273.87L80.80,313.98L82.80,313.98L82.80,281.90L83.05,281.90L83.05,276.43L89.30,276.43L89.30,267.90L97.30,267.90L97.30,304.59L104.05,304.59L104.05,305.44L106.80,305.44L106.80,307.15L123.80,307.15L123.80,311.42L128.80,311.42L128.80,313.98L140.80,313.98L140.80,325.92L142.55,325.92L142.55,334.45L145.05,334.45L145.05,330.19L150.30,330.19L150.30,316.54L164.80,316.54L164.80,324.22L168.55,324.22L168.55,315.68L182.55,315.68L182.55,324.22L188.10,324.22L188.10,338.40Z" fill="#7a3ee0"/><path d="M23.30,338.40L23.30,333.90L25.80,333.90L25.80,332.41L50.05,332.41L50.05,329.33L51.80,329.33L51.80,320.80L53.30,320.80L53.30,310.56L55.05,310.56L55.05,284.62L63.55,284.62L63.55,284.97L70.05,284.97L70.05,277.29L78.05,277.29L78.05,278.14L80.80,278.14L80.80,317.39L82.80,317.39L82.80,281.90L83.05,281.90L83.05,281.55L89.30,281.55L89.30,277.29L97.30,277.29L97.30,317.39L104.05,317.39L104.05,321.66L105.05,321.66L105.05,314.83L123.80,314.83L123.80,317.39L124.55,317.39L124.55,319.10L140.80,319.10L140.80,334.45L142.55,334.45L142.55,338.38L145.05,338.38L145.05,330.19L150.30,330.19L150.30,321.66L164.80,321.66L164.80,327.63L168.55,327.63L168.55,321.66L182.55,321.66L182.55,329.33L188.10,329.33L188.10,338.40Z" fill="#4cab3c"/><path d="M23.30,338.40L23.30,338.38L52.30,338.38L52.30,325.92L53.30,325.92L53.30,310.56L55.05,310.56L55.05,298.96L63.55,298.96L63.55,299.47L70.05,299.47L70.05,290.09L80.80,290.09L80.80,327.63L82.80,327.63L82.80,287.53L89.30,287.53L89.30,290.09L97.30,290.09L97.30,321.66L123.80,321.66L123.80,317.39L124.55,317.39L124.55,319.10L140.80,319.10L140.80,334.45L142.55,334.45L142.55,338.38L145.05,338.38L145.05,330.19L150.30,330.19L150.30,325.92L164.80,325.92L164.80,331.04L168.55,331.04L168.55,325.07L182.55,325.07L182.55,332.75L188.10,332.75L188.10,338.40Z" fill="#ff2200"/><path d="M23.30,338.40L23.30,338.38L52.80,338.38L52.80,325.92L53.30,325.92L53.30,317.39L55.05,317.39L55.05,308.86L63.55,308.86L63.55,310.56L70.05,310.56L70.05,301.18L80.80,301.18L80.80,338.38L82.80,338.38L82.80,299.47L89.30,299.47L89.30,302.03L97.30,302.03L97.30,338.38L124.05,338.38L124.05,329.33L140.80,329.33L140.80,338.38L150.55,338.38L150.55,330.19L164.80,330.19L164.80,338.38L168.55,338.38L168.55,330.19L182.55,330.19L182.55,338.38L188.10,338.38L188.10,338.40Z" fill="#4a84d0"/><path d="M23.30,333.43L36.72,333.43L36.72,333.09L47.30,333.09L47.30,325.92L49.01,325.92L49.01,320.80L54.13,320.80L54.13,317.05L56.69,317.05L56.69,318.24L60.96,318.24L60.96,313.98L64.37,313.98L64.37,313.12L69.49,313.12L69.49,308.86L71.19,308.86L71.19,310.90L76.31,310.90L76.31,313.63L80.58,313.63L80.58,325.07L82.46,325.07L82.46,300.32L83.48,300.32L83.48,297.25L91.67,297.25L91.67,298.62L97.13,298.62L97.13,317.05L104.00,317.05L104.00,317.05L114.24,317.05L114.24,318.24L124.48,318.24L124.48,319.95L142.91,319.95L142.91,325.92L143.59,325.92L143.59,332.75L144.27,332.75L144.27,325.92L148.37,325.92L148.37,327.63L155.19,327.63L155.19,325.92L162.87,325.92L162.87,325.07L168.85,325.07L168.85,326.77L175.67,326.77L175.67,325.92L182.50,325.92L182.50,327.63L188.10,327.63" fill="none" stroke="#ffffff" stroke-opacity="0.7" stroke-width="1.9" stroke-linejoin="round"/><path d="M23.30,333.43L36.72,333.43L36.72,333.09L47.30,333.09L47.30,325.92L49.01,325.92L49.01,320.80L54.13,320.80L54.13,317.05L56.69,317.05L56.69,318.24L60.96,318.24L60.96,313.98L64.37,313.98L64.37,313.12L69.49,313.12L69.49,308.86L71.19,308.86L71.19,310.90L76.31,310.90L76.31,313.63L80.58,313.63L80.58,325.07L82.46,325.07L82.46,300.32L83.48,300.32L83.48,297.25L91.67,297.25L91.67,298.62L97.13,298.62L97.13,317.05L104.00,317.05L104.00,317.05L114.24,317.05L114.24,318.24L124.48,318.24L124.48,319.95L142.91,319.95L142.91,325.92L143.59,325.92L143.59,332.75L144.27,332.75L144.27,325.92L148.37,325.92L148.37,327.63L155.19,327.63L155.19,325.92L162.87,325.92L162.87,325.07L168.85,325.07L168.85,326.77L175.67,326.77L175.67,325.92L182.50,325.92L182.50,327.63L188.10,327.63" fill="none" stroke="#6a6a6a" stroke-width="0.7" stroke-linejoin="round"/><line x1="23.3" y1="219.1" x2="23.3" y2="338.9" stroke="#333333" stroke-width="0.9"/><line x1="19.7" y1="338.40" x2="23.3" y2="338.40" stroke="#333333" stroke-width="0.9"/><text x="16.90" y="341.25" font-size="7.95" font-weight="normal" text-anchor="end" fill="#262626" >0</text><line x1="19.7" y1="305.60" x2="23.3" y2="305.60" stroke="#333333" stroke-width="0.9"/><text x="16.90" y="308.45" font-size="7.95" font-weight="normal" text-anchor="end" fill="#262626" >500</text><line x1="19.7" y1="272.80" x2="23.3" y2="272.80" stroke="#333333" stroke-width="0.9"/><text x="16.90" y="275.65" font-size="7.95" font-weight="normal" text-anchor="end" fill="#262626" >1.0K</text><line x1="19.7" y1="240.00" x2="23.3" y2="240.00" stroke="#333333" stroke-width="0.9"/><text x="16.90" y="242.85" font-size="7.95" font-weight="normal" text-anchor="end" fill="#262626" >1.5K</text><line x1="23.3" y1="338.4" x2="188.1" y2="338.4" stroke="#333333" stroke-width="0.9"/><line x1="25.25" y1="338.4" x2="25.25" y2="341.79999999999995" stroke="#333333" stroke-width="0.9"/><text x="25.25" y="351.15" font-size="7.85" font-weight="normal" text-anchor="middle" fill="#262626" >1980</text><line x1="61.49" y1="338.4" x2="61.49" y2="341.79999999999995" stroke="#333333" stroke-width="0.9"/><text x="61.49" y="351.15" font-size="7.85" font-weight="normal" text-anchor="middle" fill="#262626" >1990</text><line x1="97.73" y1="338.4" x2="97.73" y2="341.79999999999995" stroke="#333333" stroke-width="0.9"/><text x="97.73" y="351.15" font-size="7.85" font-weight="normal" text-anchor="middle" fill="#262626" >2000</text><line x1="133.97" y1="338.4" x2="133.97" y2="341.79999999999995" stroke="#333333" stroke-width="0.9"/><text x="133.97" y="351.15" font-size="7.85" font-weight="normal" text-anchor="middle" fill="#262626" >2010</text><line x1="170.21" y1="338.4" x2="170.21" y2="341.79999999999995" stroke="#333333" stroke-width="0.9"/><text x="170.21" y="351.15" font-size="7.85" font-weight="normal" text-anchor="middle" fill="#262626" >2020</text><path d="M305.20,338.40L305.20,335.00L308.20,335.00L308.20,329.80L318.70,329.80L318.70,325.60L320.45,325.60L320.45,322.40L322.70,322.40L322.70,319.60L324.95,319.60L324.95,319.20L330.20,319.20L330.20,314.92L330.70,314.92L330.70,310.64L331.20,310.64L331.20,306.36L331.45,306.36L331.45,302.08L331.95,302.08L331.95,297.80L332.20,297.80L332.20,293.52L332.70,293.52L332.70,289.24L333.20,289.24L333.20,284.96L333.45,284.96L333.45,280.68L333.95,280.68L333.95,276.40L334.20,276.40L334.20,260.50L336.45,260.50L336.45,244.80L338.20,244.80L338.20,237.80L341.70,237.80L341.70,243.90L343.45,243.90L343.45,236.00L346.20,236.00L346.20,220.30L348.20,220.30L348.20,223.80L349.20,223.80L349.20,219.40L350.45,219.40L350.45,224.80L353.20,224.80L353.20,230.80L355.20,230.80L355.20,236.00L357.20,236.00L357.20,245.70L360.95,245.70L360.95,251.80L363.70,251.80L363.70,247.40L366.20,247.40L366.20,243.00L368.45,243.00L368.45,241.30L370.70,241.30L370.70,239.50L372.45,239.50L372.45,231.60L374.95,231.60L374.95,222.00L378.45,222.00L378.45,227.30L380.20,227.30L380.20,226.40L381.45,226.40L381.45,231.60L383.95,231.60L383.95,232.50L385.70,232.50L385.70,241.30L387.95,241.30L387.95,235.10L392.70,235.10L392.70,225.50L395.45,225.50L395.45,230.80L398.45,230.80L398.45,237.80L401.20,237.80L401.20,241.30L403.70,241.30L403.70,230.80L405.95,230.80L405.95,241.30L408.20,241.30L408.20,245.70L410.70,245.70L410.70,250.00L415.20,250.00L415.20,252.60L418.70,252.60L418.70,248.30L421.20,248.30L421.20,257.00L423.95,257.00L423.95,265.80L426.45,265.80L426.45,262.30L429.20,262.30L429.20,248.30L432.70,248.30L432.70,260.40L436.20,260.40L436.20,244.80L438.20,244.80L438.20,248.10L439.95,248.10L439.95,268.60L442.70,268.60L442.70,258.00L444.95,258.00L444.95,269.40L446.95,269.40L446.95,284.20L448.95,284.20L448.95,265.30L450.70,265.30L450.70,259.60L453.45,259.60L453.45,265.30L455.95,265.30L455.95,258.80L457.20,258.80L457.20,265.30L458.45,265.30L458.45,257.10L459.95,257.10L459.95,264.50L461.20,264.50L461.20,258.80L462.95,258.80L462.95,254.70L466.20,254.70L466.20,262.00L468.00,262.00L468.00,338.40Z" fill="#cccccc"/><path d="M305.20,338.40L305.20,335.00L308.20,335.00L308.20,329.80L318.70,329.80L318.70,329.33L331.70,329.33L331.70,320.80L334.20,320.80L334.20,317.39L336.20,317.39L336.20,293.50L343.70,293.50L343.70,291.79L361.45,291.79L361.45,317.39L364.70,317.39L364.70,283.26L378.70,283.26L378.70,290.09L385.20,290.09L385.20,291.79L403.95,291.79L403.95,296.91L409.95,296.91L409.95,300.32L421.70,300.32L421.70,317.39L422.70,317.39L422.70,315.68L425.20,315.68L425.20,311.42L430.45,311.42L430.45,313.98L435.45,313.98L435.45,294.35L444.95,294.35L444.95,303.74L449.20,303.74L449.20,301.18L462.70,301.18L462.70,298.62L468.00,298.62L468.00,338.40Z" fill="#4d4d4d"/><path d="M305.20,338.40L305.20,335.00L308.20,335.00L308.20,329.80L318.70,329.80L318.70,329.33L331.70,329.33L331.70,320.80L334.20,320.80L334.20,317.39L336.20,317.39L336.20,293.50L343.70,293.50L343.70,291.79L351.20,291.79L351.20,294.35L361.45,294.35L361.45,319.10L364.70,319.10L364.70,288.38L378.70,288.38L378.70,291.79L385.20,291.79L385.20,298.62L403.95,298.62L403.95,300.32L409.95,300.32L409.95,305.44L421.70,305.44L421.70,320.80L422.70,320.80L422.70,317.39L425.20,317.39L425.20,315.68L430.45,315.68L430.45,317.39L435.45,317.39L435.45,299.47L444.95,299.47L444.95,307.15L462.70,307.15L462.70,303.74L468.00,303.74L468.00,338.40Z" fill="#f2832a"/><path d="M305.20,338.40L305.20,335.00L308.20,335.00L308.20,329.80L318.70,329.80L318.70,329.33L331.70,329.33L331.70,322.51L334.20,322.51L334.20,319.10L336.20,319.10L336.20,302.03L343.70,302.03L343.70,299.47L351.20,299.47L351.20,302.88L361.45,302.88L361.45,320.80L364.70,320.80L364.70,298.62L370.20,298.62L370.20,296.91L378.70,296.91L378.70,303.74L385.20,303.74L385.20,308.00L403.95,308.00L403.95,315.68L404.70,315.68L404.70,317.39L409.95,317.39L409.95,316.54L421.70,316.54L421.70,332.75L422.70,332.75L422.70,338.38L425.20,338.38L425.20,326.77L430.45,326.77L430.45,325.92L435.45,325.92L435.45,310.56L444.95,310.56L444.95,315.68L449.20,315.68L449.20,307.15L462.70,307.15L462.70,315.68L468.00,315.68L468.00,338.40Z" fill="#7a3ee0"/><path d="M305.20,338.40L305.20,335.00L308.20,335.00L308.20,333.60L331.70,333.60L331.70,325.92L334.20,325.92L334.20,320.80L336.20,320.80L336.20,308.86L343.70,308.86L343.70,307.15L351.20,307.15L351.20,308.00L361.45,308.00L361.45,324.22L364.70,324.22L364.70,308.00L370.20,308.00L370.20,305.44L378.70,305.44L378.70,310.56L385.20,310.56L385.20,315.68L403.95,315.68L403.95,317.39L404.70,317.39L404.70,320.80L421.70,320.80L421.70,334.45L422.70,334.45L422.70,338.38L425.20,338.38L425.20,326.77L430.45,326.77L430.45,327.63L435.45,327.63L435.45,316.54L444.95,316.54L444.95,319.10L449.20,319.10L449.20,315.68L462.70,315.68L462.70,320.80L468.00,320.80L468.00,338.40Z" fill="#4cab3c"/><path d="M305.20,338.40L305.20,338.38L335.20,338.38L335.20,332.75L336.20,332.75L336.20,320.46L343.70,320.46L343.70,318.24L351.20,318.24L351.20,322.51L361.45,322.51L361.45,331.04L364.70,331.04L364.70,312.27L370.20,312.27L370.20,313.12L378.70,313.12L378.70,317.39L385.20,317.39L385.20,323.36L403.95,323.36L403.95,317.39L404.70,317.39L404.70,320.80L421.70,320.80L421.70,334.45L422.70,334.45L422.70,338.38L425.20,338.38L425.20,326.77L430.45,326.77L430.45,332.75L435.45,332.75L435.45,320.80L444.95,320.80L444.95,321.66L449.20,321.66L449.20,319.95L462.70,319.95L462.70,325.92L468.00,325.92L468.00,338.40Z" fill="#ff2200"/><path d="M305.20,338.40L305.20,338.38L336.20,338.38L336.20,325.92L343.70,325.92L343.70,326.77L351.20,326.77L351.20,327.63L361.45,327.63L361.45,338.38L364.70,338.38L364.70,330.19L370.20,330.19L370.20,331.89L378.70,331.89L378.70,338.38L405.20,338.38L405.20,334.11L421.70,334.11L421.70,338.38L435.45,338.38L435.45,332.75L444.95,332.75L444.95,338.38L449.20,338.38L449.20,332.75L462.70,332.75L462.70,338.38L468.00,338.38L468.00,338.40Z" fill="#4a84d0"/><path d="M305.20,332.75L328.16,332.75L328.16,324.22L330.72,324.22L330.72,319.10L334.13,319.10L334.13,317.73L342.66,317.73L342.66,315.68L346.93,315.68L346.93,317.05L351.19,317.05L351.19,319.10L358.02,319.10L358.02,321.14L363.14,321.14L363.14,322.51L365.70,322.51L365.70,310.56L368.26,310.56L368.26,308.86L378.50,308.86L378.50,310.56L385.00,310.56L385.00,313.98L390.12,313.98L390.12,313.12L402.06,313.12L402.06,311.42L403.77,311.42L403.77,314.83L412.30,314.83L412.30,314.83L421.69,314.83L421.69,313.12L423.91,313.12L423.91,320.80L425.10,320.80L425.10,313.98L427.66,313.98L427.66,316.02L436.19,316.02L436.19,315.34L468.00,315.34" fill="none" stroke="#ffffff" stroke-opacity="0.7" stroke-width="1.9" stroke-linejoin="round"/><path d="M305.20,332.75L328.16,332.75L328.16,324.22L330.72,324.22L330.72,319.10L334.13,319.10L334.13,317.73L342.66,317.73L342.66,315.68L346.93,315.68L346.93,317.05L351.19,317.05L351.19,319.10L358.02,319.10L358.02,321.14L363.14,321.14L363.14,322.51L365.70,322.51L365.70,310.56L368.26,310.56L368.26,308.86L378.50,308.86L378.50,310.56L385.00,310.56L385.00,313.98L390.12,313.98L390.12,313.12L402.06,313.12L402.06,311.42L403.77,311.42L403.77,314.83L412.30,314.83L412.30,314.83L421.69,314.83L421.69,313.12L423.91,313.12L423.91,320.80L425.10,320.80L425.10,313.98L427.66,313.98L427.66,316.02L436.19,316.02L436.19,315.34L468.00,315.34" fill="none" stroke="#6a6a6a" stroke-width="0.7" stroke-linejoin="round"/><line x1="305.2" y1="219.1" x2="305.2" y2="338.9" stroke="#333333" stroke-width="0.9"/><line x1="301.59999999999997" y1="338.40" x2="305.2" y2="338.40" stroke="#333333" stroke-width="0.9"/><text x="298.80" y="341.25" font-size="7.95" font-weight="normal" text-anchor="end" fill="#262626" >0</text><line x1="301.59999999999997" y1="306.35" x2="305.2" y2="306.35" stroke="#333333" stroke-width="0.9"/><text x="298.80" y="309.20" font-size="7.95" font-weight="normal" text-anchor="end" fill="#262626" >250K</text><line x1="301.59999999999997" y1="274.30" x2="305.2" y2="274.30" stroke="#333333" stroke-width="0.9"/><text x="298.80" y="277.15" font-size="7.95" font-weight="normal" text-anchor="end" fill="#262626" >500K</text><line x1="301.59999999999997" y1="242.25" x2="305.2" y2="242.25" stroke="#333333" stroke-width="0.9"/><text x="298.80" y="245.10" font-size="7.95" font-weight="normal" text-anchor="end" fill="#262626" >750K</text><line x1="305.2" y1="338.4" x2="468.0" y2="338.4" stroke="#333333" stroke-width="0.9"/><line x1="307.30" y1="338.4" x2="307.30" y2="341.79999999999995" stroke="#333333" stroke-width="0.9"/><text x="307.30" y="351.15" font-size="7.85" font-weight="normal" text-anchor="middle" fill="#262626" >1980</text><line x1="343.09" y1="338.4" x2="343.09" y2="341.79999999999995" stroke="#333333" stroke-width="0.9"/><text x="343.09" y="351.15" font-size="7.85" font-weight="normal" text-anchor="middle" fill="#262626" >1990</text><line x1="378.88" y1="338.4" x2="378.88" y2="341.79999999999995" stroke="#333333" stroke-width="0.9"/><text x="378.88" y="351.15" font-size="7.85" font-weight="normal" text-anchor="middle" fill="#262626" >2000</text><line x1="414.67" y1="338.4" x2="414.67" y2="341.79999999999995" stroke="#333333" stroke-width="0.9"/><text x="414.67" y="351.15" font-size="7.85" font-weight="normal" text-anchor="middle" fill="#262626" >2010</text><line x1="450.46" y1="338.4" x2="450.46" y2="341.79999999999995" stroke="#333333" stroke-width="0.9"/><text x="450.46" y="351.15" font-size="7.85" font-weight="normal" text-anchor="middle" fill="#262626" >2020</text><rect x="219.0" y="318.36" width="53.0" height="20.04" fill="#4a84d0"/><rect x="219.0" y="301.77" width="53.0" height="16.58" fill="#ff2200"/><rect x="219.0" y="290.92" width="53.0" height="10.86" fill="#4cab3c"/><rect x="219.0" y="280.30" width="53.0" height="10.62" fill="#7a3ee0"/><rect x="219.0" y="272.90" width="53.0" height="7.40" fill="#f2832a"/><rect x="219.0" y="266.58" width="53.0" height="6.32" fill="#4d4d4d"/><rect x="219.0" y="219.10" width="53.0" height="47.48" fill="#cccccc"/><text x="245.50" y="331.48" font-size="7.45" text-anchor="middle" fill="#2a2a2a" stroke="#fff" stroke-width="1.7" stroke-linejoin="round" paint-order="stroke">16.8%</text><text x="245.50" y="313.17" font-size="7.45" text-anchor="middle" fill="#2a2a2a" stroke="#fff" stroke-width="1.7" stroke-linejoin="round" paint-order="stroke">13.9%</text><text x="245.50" y="299.45" font-size="7.45" text-anchor="middle" fill="#2a2a2a" stroke="#fff" stroke-width="1.7" stroke-linejoin="round" paint-order="stroke">9.1%</text><text x="245.50" y="288.71" font-size="7.45" text-anchor="middle" fill="#2a2a2a" stroke="#fff" stroke-width="1.7" stroke-linejoin="round" paint-order="stroke">8.9%</text><text x="245.50" y="279.70" font-size="7.45" text-anchor="middle" fill="#2a2a2a" stroke="#fff" stroke-width="1.7" stroke-linejoin="round" paint-order="stroke">6.2%</text><text x="245.50" y="245.94" font-size="7.45" text-anchor="middle" fill="#2a2a2a" stroke="#fff" stroke-width="1.7" stroke-linejoin="round" paint-order="stroke">39.8%</text><line x1="219.0" y1="219.1" x2="219.0" y2="338.79999999999995" stroke="#333333" stroke-width="0.9"/><line x1="219.0" y1="338.4" x2="272.0" y2="338.4" stroke="#333333" stroke-width="0.9"/><rect x="501.0" y="332.20" width="51.0" height="6.20" fill="#4a84d0"/><rect x="501.0" y="317.05" width="51.0" height="15.15" fill="#ff2200"/><rect x="501.0" y="308.57" width="51.0" height="8.47" fill="#4cab3c"/><rect x="501.0" y="299.99" width="51.0" height="8.59" fill="#7a3ee0"/><rect x="501.0" y="289.37" width="51.0" height="10.62" fill="#f2832a"/><rect x="501.0" y="284.00" width="51.0" height="5.37" fill="#4d4d4d"/><rect x="501.0" y="219.10" width="51.0" height="64.90" fill="#cccccc"/><text x="526.50" y="327.72" font-size="7.45" text-anchor="middle" fill="#2a2a2a" stroke="#fff" stroke-width="1.7" stroke-linejoin="round" paint-order="stroke">12.7%</text><text x="526.50" y="315.91" font-size="7.45" text-anchor="middle" fill="#2a2a2a" stroke="#fff" stroke-width="1.7" stroke-linejoin="round" paint-order="stroke">7.1%</text><text x="526.50" y="307.38" font-size="7.45" text-anchor="middle" fill="#2a2a2a" stroke="#fff" stroke-width="1.7" stroke-linejoin="round" paint-order="stroke">7.2%</text><text x="526.50" y="297.78" font-size="7.45" text-anchor="middle" fill="#2a2a2a" stroke="#fff" stroke-width="1.7" stroke-linejoin="round" paint-order="stroke">8.9%</text><text x="526.50" y="254.65" font-size="7.45" text-anchor="middle" fill="#2a2a2a" stroke="#fff" stroke-width="1.7" stroke-linejoin="round" paint-order="stroke">54.4%</text><line x1="501.0" y1="219.1" x2="501.0" y2="338.79999999999995" stroke="#333333" stroke-width="0.9"/><line x1="501.0" y1="338.4" x2="552.0" y2="338.4" stroke="#333333" stroke-width="0.9"/><text x="563.50" y="254.60" font-size="8.05" font-weight="bold" text-anchor="start" fill="#1a1a1a" >Coastal country</text><circle cx="567" cy="266.60" r="2.6" fill="#4a84d0" stroke="#000" stroke-width="0.95"/><text x="578.80" y="268.95" font-size="6.65" font-weight="normal" text-anchor="start" fill="#262626" >Morocco</text><circle cx="567" cy="274.22" r="2.6" fill="#ff2200" stroke="#000" stroke-width="0.95"/><text x="578.80" y="276.57" font-size="6.65" font-weight="normal" text-anchor="start" fill="#262626" >Mauritania</text><circle cx="567" cy="281.84" r="2.6" fill="#4cab3c" stroke="#000" stroke-width="0.95"/><text x="578.80" y="284.19" font-size="6.65" font-weight="normal" text-anchor="start" fill="#262626" >Senegal</text><circle cx="567" cy="289.46" r="2.6" fill="#7a3ee0" stroke="#000" stroke-width="0.95"/><text x="578.80" y="291.81" font-size="6.65" font-weight="normal" text-anchor="start" fill="#262626" >Guinea-Bissau</text><circle cx="567" cy="297.08" r="2.6" fill="#f2832a" stroke="#000" stroke-width="0.95"/><text x="578.80" y="299.43" font-size="6.65" font-weight="normal" text-anchor="start" fill="#262626" >Madagascar</text><circle cx="567" cy="304.70" r="2.6" fill="#4d4d4d" stroke="#000" stroke-width="0.95"/><text x="578.80" y="307.05" font-size="6.65" font-weight="normal" text-anchor="start" fill="#262626" >Cape Verde</text><circle cx="567" cy="312.32" r="2.6" fill="#cccccc" stroke="#000" stroke-width="0.95"/><text x="578.80" y="314.67" font-size="6.65" font-weight="normal" text-anchor="start" fill="#262626" >Others</text><text x="23.6" y="388.1" font-size="10.2" font-weight="bold" fill="#000" textLength="91.0" lengthAdjust="spacing">C - By vessel type</text><text x="105.70" y="404.55" font-size="8.0" font-weight="bold" text-anchor="middle" fill="#1a1a1a" >In vessel number</text><text x="245.50" y="404.55" font-size="8.0" font-weight="bold" text-anchor="middle" fill="#1a1a1a" >Overall</text><text x="386.60" y="404.55" font-size="8.0" font-weight="bold" text-anchor="middle" fill="#1a1a1a" >In tonnage</text><text x="526.50" y="404.55" font-size="8.0" font-weight="bold" text-anchor="middle" fill="#1a1a1a" >Overall</text><path d="M23.30,528.40L23.30,523.90L25.80,523.90L25.80,519.10L36.80,519.10L36.80,512.90L43.30,512.90L43.30,509.30L47.55,509.30L47.55,506.15L48.05,506.15L48.05,503.01L48.55,503.01L48.55,499.86L48.80,499.86L48.80,496.72L49.30,496.72L49.30,493.57L49.80,493.57L49.80,490.42L50.30,490.42L50.30,487.28L50.55,487.28L50.55,484.13L51.05,484.13L51.05,480.98L51.55,480.98L51.55,477.84L51.80,477.84L51.80,474.69L52.30,474.69L52.30,471.55L52.80,471.55L52.80,458.40L54.55,458.40L54.55,425.40L56.05,425.40L56.05,422.80L59.05,422.80L59.05,420.10L60.05,420.10L60.05,428.00L60.80,428.00L60.80,421.90L62.55,421.90L62.55,424.50L63.80,424.50L63.80,422.80L65.30,422.80L65.30,412.30L67.30,412.30L67.30,414.00L68.30,414.00L68.30,415.80L69.55,415.80L69.55,428.90L70.55,428.90L70.55,415.80L70.80,415.80L70.80,414.90L74.05,414.90L74.05,421.90L75.30,421.90L75.30,427.10L76.30,427.10L76.30,435.90L77.55,435.90L77.55,428.90L78.80,428.90L78.80,435.00L81.05,435.00L81.05,471.90L83.05,471.90L83.05,430.60L84.80,430.60L84.80,427.10L85.80,427.10L85.80,436.80L88.05,436.80L88.05,422.80L88.55,422.80L88.55,422.00L88.80,422.00L88.80,421.20L89.30,421.20L89.30,420.40L89.80,420.40L89.80,419.60L90.30,419.60L90.30,418.80L90.55,418.80L90.55,418.00L91.05,418.00L91.05,417.20L91.55,417.20L91.55,416.40L92.05,416.40L92.05,415.60L92.30,415.60L92.30,414.80L92.80,414.80L92.80,414.00L93.30,414.00L93.30,413.56L93.80,413.56L93.80,413.12L94.05,413.12L94.05,412.68L94.55,412.68L94.55,412.24L95.05,412.24L95.05,411.80L95.55,411.80L95.55,411.36L95.80,411.36L95.80,410.92L96.30,410.92L96.30,410.48L96.80,410.48L96.80,410.04L97.30,410.04L97.30,439.40L100.30,439.40L100.30,443.80L102.80,443.80L102.80,440.50L104.80,440.50L104.80,451.90L106.80,451.90L106.80,445.80L111.55,445.80L111.55,440.90L114.05,440.90L114.05,447.50L117.05,447.50L117.05,455.40L118.55,455.40L118.55,458.00L121.05,458.00L121.05,465.90L123.30,465.90L123.30,449.30L125.05,449.30L125.05,456.40L127.30,456.40L127.30,460.60L129.80,460.60L129.80,463.90L135.05,463.90L135.05,467.70L138.55,467.70L138.55,464.20L140.80,464.20L140.80,477.30L141.30,477.30L141.30,477.00L143.30,477.00L143.30,486.50L144.80,486.50L144.80,488.90L147.30,488.90L147.30,483.60L149.55,483.60L149.55,475.50L151.05,475.50L151.05,482.80L154.80,482.80L154.80,474.10L158.80,474.10L158.80,479.20L159.80,479.20L159.80,485.80L162.80,485.80L162.80,479.90L164.30,479.90L164.30,490.90L166.80,490.90L166.80,496.70L168.80,496.70L168.80,485.00L170.80,485.00L170.80,482.10L174.55,482.10L174.55,483.90L176.05,483.90L176.05,481.40L182.55,481.40L182.55,477.80L183.05,477.80L183.05,482.10L183.80,482.10L183.80,486.50L186.55,486.50L186.55,489.40L187.55,489.40L187.55,495.30L188.10,495.30L188.10,528.40Z" fill="#808080"/><path d="M23.30,528.40L23.30,525.70L25.80,525.70L25.80,520.90L36.80,520.90L36.80,514.70L43.30,514.70L43.30,511.10L47.55,511.10L47.55,507.95L48.05,507.95L48.05,504.81L48.55,504.81L48.55,501.66L48.80,501.66L48.80,498.52L49.30,498.52L49.30,495.37L49.80,495.37L49.80,492.22L50.30,492.22L50.30,489.08L50.55,489.08L50.55,485.93L51.05,485.93L51.05,482.78L51.55,482.78L51.55,479.64L51.80,479.64L51.80,476.49L52.30,476.49L52.30,473.35L52.80,473.35L52.80,460.20L54.55,460.20L54.55,427.20L56.05,427.20L56.05,424.60L59.05,424.60L59.05,421.90L60.05,421.90L60.05,429.80L60.80,429.80L60.80,423.70L62.55,423.70L62.55,426.30L63.80,426.30L63.80,424.60L65.30,424.60L65.30,414.10L67.30,414.10L67.30,415.80L68.30,415.80L68.30,417.60L69.55,417.60L69.55,430.70L70.55,430.70L70.55,417.60L70.80,417.60L70.80,416.70L74.05,416.70L74.05,423.70L75.30,423.70L75.30,428.90L76.30,428.90L76.30,437.70L77.55,437.70L77.55,430.70L78.80,430.70L78.80,436.80L81.05,436.80L81.05,473.70L83.05,473.70L83.05,432.40L84.80,432.40L84.80,428.90L85.80,428.90L85.80,438.60L88.05,438.60L88.05,424.60L88.55,424.60L88.55,423.80L88.80,423.80L88.80,423.00L89.30,423.00L89.30,422.20L89.80,422.20L89.80,421.40L90.30,421.40L90.30,420.60L90.55,420.60L90.55,419.80L91.05,419.80L91.05,419.00L91.55,419.00L91.55,418.20L92.05,418.20L92.05,417.40L92.30,417.40L92.30,416.60L92.80,416.60L92.80,415.80L93.30,415.80L93.30,415.36L93.80,415.36L93.80,414.92L94.05,414.92L94.05,414.48L94.55,414.48L94.55,414.04L95.05,414.04L95.05,413.60L95.55,413.60L95.55,413.16L95.80,413.16L95.80,412.72L96.30,412.72L96.30,412.28L96.80,412.28L96.80,411.84L97.30,411.84L97.30,441.20L100.30,441.20L100.30,445.60L102.80,445.60L102.80,442.30L104.80,442.30L104.80,453.70L106.80,453.70L106.80,447.60L111.55,447.60L111.55,442.70L114.05,442.70L114.05,449.30L117.05,449.30L117.05,457.20L118.55,457.20L118.55,459.80L121.05,459.80L121.05,467.70L123.30,467.70L123.30,451.10L125.05,451.10L125.05,458.20L127.30,458.20L127.30,462.40L129.80,462.40L129.80,465.70L135.05,465.70L135.05,469.50L138.55,469.50L138.55,466.00L140.80,466.00L140.80,479.10L141.30,479.10L141.30,478.80L143.30,478.80L143.30,488.30L144.80,488.30L144.80,490.70L147.30,490.70L147.30,485.40L149.55,485.40L149.55,477.30L151.05,477.30L151.05,484.60L154.80,484.60L154.80,475.90L158.80,475.90L158.80,481.00L159.80,481.00L159.80,487.60L162.80,487.60L162.80,481.70L164.30,481.70L164.30,492.70L166.80,492.70L166.80,498.50L168.80,498.50L168.80,486.80L170.80,486.80L170.80,483.90L174.55,483.90L174.55,485.70L176.05,485.70L176.05,483.20L182.55,483.20L182.55,479.60L183.05,479.60L183.05,483.90L183.80,483.90L183.80,488.30L186.55,488.30L186.55,491.20L187.55,491.20L187.55,497.10L188.10,497.10L188.10,528.40Z" fill="#edb565"/><path d="M23.30,528.40L23.30,525.70L25.80,525.70L25.80,520.90L36.80,520.90L36.80,514.70L43.30,514.70L43.30,511.10L47.55,511.10L47.55,507.95L48.05,507.95L48.05,504.81L48.55,504.81L48.55,501.66L48.80,501.66L48.80,498.52L49.30,498.52L49.30,495.37L49.80,495.37L49.80,492.22L50.30,492.22L50.30,489.08L50.55,489.08L50.55,485.93L51.05,485.93L51.05,482.78L51.55,482.78L51.55,479.64L51.80,479.64L51.80,476.49L52.30,476.49L52.30,473.35L52.80,473.35L52.80,460.20L54.55,460.20L54.55,427.20L56.05,427.20L56.05,425.48L60.05,425.48L60.05,429.80L60.80,429.80L60.80,425.48L62.55,425.48L62.55,426.30L63.80,426.30L63.80,425.48L65.30,425.48L65.30,418.65L69.55,418.65L69.55,430.70L70.55,430.70L70.55,418.65L71.30,418.65L71.30,428.89L75.30,428.89L75.30,428.90L76.30,428.90L76.30,437.70L76.55,437.70L76.55,439.13L80.80,439.13L80.80,476.67L82.80,476.67L82.80,473.70L83.05,473.70L83.05,435.72L83.30,435.72L83.30,435.05L83.80,435.05L83.80,434.38L84.05,434.38L84.05,433.72L84.55,433.72L84.55,433.05L85.05,433.05L85.05,432.38L85.30,432.38L85.30,431.72L85.80,431.72L85.80,438.60L88.05,438.60L88.05,427.72L88.30,427.72L88.30,427.05L88.55,427.05L88.55,426.38L89.05,426.38L89.05,425.72L89.55,425.72L89.55,425.05L89.80,425.05L89.80,424.38L90.30,424.38L90.30,423.72L90.80,423.72L90.80,423.05L91.05,423.05L91.05,422.38L91.55,422.38L91.55,421.72L92.05,421.72L92.05,421.05L92.30,421.05L92.30,420.39L92.80,420.39L92.80,419.72L93.30,419.72L93.30,419.05L93.55,419.05L93.55,418.39L94.05,418.39L94.05,417.72L94.30,417.72L94.30,417.05L94.80,417.05L94.80,416.39L95.30,416.39L95.30,415.72L95.55,415.72L95.55,415.05L96.05,415.05L96.05,414.39L97.30,414.39L97.30,445.96L104.05,445.96L104.05,447.66L104.80,447.66L104.80,453.70L106.80,453.70L106.80,449.37L112.55,449.37L112.55,448.52L114.05,448.52L114.05,449.30L114.30,449.30L114.30,456.19L117.05,456.19L117.05,457.20L118.55,457.20L118.55,459.80L121.05,459.80L121.05,467.70L121.30,467.70L121.30,469.85L122.80,469.85L122.80,467.70L123.30,467.70L123.30,456.19L125.05,456.19L125.05,458.20L125.55,458.20L125.55,463.02L129.80,463.02L129.80,465.70L131.55,465.70L131.55,469.85L140.80,469.85L140.80,480.09L143.30,480.09L143.30,491.18L146.05,491.18L146.05,490.70L147.30,490.70L147.30,488.62L149.30,488.62L149.30,485.40L149.55,485.40L149.55,481.79L151.05,481.79L151.05,484.60L154.80,484.60L154.80,481.79L155.30,481.79L155.30,478.38L158.80,478.38L158.80,486.91L159.80,486.91L159.80,487.60L162.80,487.60L162.80,486.91L163.05,486.91L163.05,483.50L164.30,483.50L164.30,492.70L166.80,492.70L166.80,498.50L167.30,498.50L167.30,503.98L168.55,503.98L168.55,498.50L168.80,498.50L168.80,488.62L182.55,488.62L182.55,487.76L183.80,487.76L183.80,488.30L186.55,488.30L186.55,491.20L187.55,491.20L187.55,497.10L188.10,497.10L188.10,528.40Z" fill="#c8abdc"/><path d="M23.30,528.40L23.30,525.70L25.80,525.70L25.80,520.90L36.80,520.90L36.80,514.70L43.30,514.70L43.30,511.10L47.55,511.10L47.55,507.95L48.05,507.95L48.05,504.81L48.55,504.81L48.55,501.66L48.80,501.66L48.80,498.52L49.30,498.52L49.30,495.37L49.80,495.37L49.80,492.22L50.30,492.22L50.30,489.08L50.55,489.08L50.55,485.93L51.05,485.93L51.05,482.78L51.55,482.78L51.55,479.64L51.80,479.64L51.80,476.49L52.30,476.49L52.30,473.35L52.80,473.35L52.80,460.20L54.55,460.20L54.55,427.20L54.80,427.20L54.80,435.72L61.05,435.72L61.05,439.13L65.30,439.13L65.30,428.89L69.55,428.89L69.55,430.70L70.55,430.70L70.55,428.89L71.30,428.89L71.30,444.25L76.55,444.25L76.55,457.90L80.80,457.90L80.80,476.67L82.80,476.67L82.80,473.70L83.05,473.70L83.05,454.49L83.30,454.49L83.30,453.85L83.80,453.85L83.80,453.21L84.05,453.21L84.05,452.57L84.55,452.57L84.55,451.93L85.05,451.93L85.05,451.29L85.30,451.29L85.30,450.65L85.80,450.65L85.80,450.01L86.30,450.01L86.30,449.37L86.55,449.37L86.55,448.73L87.05,448.73L87.05,448.09L87.55,448.09L87.55,447.45L87.80,447.45L87.80,446.81L88.30,446.81L88.30,446.17L88.55,446.17L88.55,445.53L89.05,445.53L89.05,444.89L89.55,444.89L89.55,444.25L89.80,444.25L89.80,443.61L90.30,443.61L90.30,442.97L90.80,442.97L90.80,442.33L91.05,442.33L91.05,441.69L91.55,441.69L91.55,441.05L92.05,441.05L92.05,440.41L92.30,440.41L92.30,439.77L92.80,439.77L92.80,439.13L93.30,439.13L93.30,438.49L93.55,438.49L93.55,437.85L94.05,437.85L94.05,437.21L94.30,437.21L94.30,436.57L94.80,436.57L94.80,435.93L95.30,435.93L95.30,435.29L95.55,435.29L95.55,434.65L96.05,434.65L96.05,434.01L97.30,434.01L97.30,451.08L104.80,451.08L104.80,453.70L106.80,453.70L106.80,452.78L112.55,452.78L112.55,451.08L114.30,451.08L114.30,459.61L118.55,459.61L118.55,459.80L121.05,459.80L121.05,467.70L121.30,467.70L121.30,476.67L122.80,476.67L122.80,467.70L123.30,467.70L123.30,461.31L125.55,461.31L125.55,468.14L131.55,468.14L131.55,476.67L140.80,476.67L140.80,483.50L143.30,483.50L143.30,492.03L146.05,492.03L146.05,490.70L147.30,490.70L147.30,489.47L149.30,489.47L149.30,485.40L149.55,485.40L149.55,485.20L155.30,485.20L155.30,481.79L158.80,481.79L158.80,490.32L163.05,490.32L163.05,485.20L164.30,485.20L164.30,492.70L164.80,492.70L164.80,493.74L166.80,493.74L166.80,498.50L167.30,498.50L167.30,505.68L168.55,505.68L168.55,498.50L168.80,498.50L168.80,492.03L182.55,492.03L182.55,490.32L186.55,490.32L186.55,491.20L187.55,491.20L187.55,497.10L188.10,497.10L188.10,528.40Z" fill="#b5e68e"/><path d="M23.30,528.40L23.30,525.82L26.05,525.82L26.05,523.60L36.80,523.60L36.80,518.82L43.55,518.82L43.55,515.41L48.55,515.41L48.55,512.43L48.80,512.43L48.80,509.45L49.30,509.45L49.30,506.47L49.80,506.47L49.80,503.50L50.05,503.50L50.05,500.52L50.55,500.52L50.55,497.54L51.05,497.54L51.05,494.56L51.30,494.56L51.30,491.58L51.80,491.58L51.80,488.60L52.05,488.60L52.05,485.62L52.55,485.62L52.55,482.65L61.05,482.65L61.05,480.09L65.30,480.09L65.30,471.55L71.30,471.55L71.30,480.09L76.55,480.09L76.55,490.32L80.80,490.32L80.80,493.74L82.80,493.74L82.80,488.62L88.30,488.62L88.30,464.73L97.30,464.73L97.30,463.87L104.05,463.87L104.05,463.02L106.80,463.02L106.80,467.29L112.55,467.29L112.55,464.73L114.30,464.73L114.30,471.55L121.30,471.55L121.30,483.50L122.80,483.50L122.80,470.70L125.55,470.70L125.55,478.38L131.55,478.38L131.55,483.50L140.80,483.50L140.80,490.32L143.30,490.32L143.30,494.59L146.05,494.59L146.05,492.03L149.30,492.03L149.30,488.62L155.30,488.62L155.30,483.50L158.80,483.50L158.80,493.74L163.05,493.74L163.05,486.91L164.30,486.91L164.30,492.70L164.80,492.70L164.80,497.15L166.80,497.15L166.80,498.50L167.30,498.50L167.30,507.39L168.55,507.39L168.55,498.50L168.80,498.50L168.80,495.44L182.55,495.44L182.55,493.74L187.55,493.74L187.55,497.10L188.10,497.10L188.10,528.40Z" fill="#ee5c9a"/><path d="M23.30,528.40L23.30,526.84L26.05,526.84L26.05,524.80L36.80,524.80L36.80,522.24L43.55,522.24L43.55,520.02L48.80,520.02L48.80,517.99L49.30,517.99L49.30,515.96L49.80,515.96L49.80,513.92L50.05,513.92L50.05,511.89L50.55,511.89L50.55,509.86L50.80,509.86L50.80,507.83L51.30,507.83L51.30,505.80L51.80,505.80L51.80,503.77L52.05,503.77L52.05,501.74L52.55,501.74L52.55,499.71L61.05,499.71L61.05,498.86L65.30,498.86L65.30,490.32L71.30,490.32L71.30,495.44L76.55,495.44L76.55,497.15L80.80,497.15L80.80,500.56L82.80,500.56L82.80,498.00L88.30,498.00L88.30,493.74L97.30,493.74L97.30,495.44L104.05,495.44L104.05,498.00L106.80,498.00L106.80,495.44L114.30,495.44L114.30,499.71L121.30,499.71L121.30,500.56L122.80,500.56L122.80,501.42L125.55,501.42L125.55,503.12L131.55,503.12L131.55,504.83L140.80,504.83L140.80,505.68L143.30,505.68L143.30,509.10L146.05,509.10L146.05,507.39L155.30,507.39L155.30,503.98L158.80,503.98L158.80,507.39L164.80,507.39L164.80,511.66L167.30,511.66L167.30,514.22L168.55,514.22L168.55,509.10L182.55,509.10L182.55,507.39L188.10,507.39L188.10,528.40Z" fill="#abd5e6"/><path d="M23.30,523.43L36.72,523.43L36.72,523.09L47.30,523.09L47.30,515.92L49.01,515.92L49.01,510.80L54.13,510.80L54.13,507.05L56.69,507.05L56.69,508.24L60.96,508.24L60.96,503.98L64.37,503.98L64.37,503.12L69.49,503.12L69.49,498.86L71.19,498.86L71.19,500.90L76.31,500.90L76.31,503.63L80.58,503.63L80.58,515.07L82.46,515.07L82.46,490.32L83.48,490.32L83.48,487.25L91.67,487.25L91.67,488.62L97.13,488.62L97.13,507.05L104.00,507.05L104.00,507.05L114.24,507.05L114.24,508.24L124.48,508.24L124.48,509.95L142.91,509.95L142.91,515.92L143.59,515.92L143.59,522.75L144.27,522.75L144.27,515.92L148.37,515.92L148.37,517.63L155.19,517.63L155.19,515.92L162.87,515.92L162.87,515.07L168.85,515.07L168.85,516.77L175.67,516.77L175.67,515.92L182.50,515.92L182.50,517.63L188.10,517.63" fill="none" stroke="#ffffff" stroke-opacity="0.2" stroke-width="1.9" stroke-linejoin="round"/><path d="M23.30,523.43L36.72,523.43L36.72,523.09L47.30,523.09L47.30,515.92L49.01,515.92L49.01,510.80L54.13,510.80L54.13,507.05L56.69,507.05L56.69,508.24L60.96,508.24L60.96,503.98L64.37,503.98L64.37,503.12L69.49,503.12L69.49,498.86L71.19,498.86L71.19,500.90L76.31,500.90L76.31,503.63L80.58,503.63L80.58,515.07L82.46,515.07L82.46,490.32L83.48,490.32L83.48,487.25L91.67,487.25L91.67,488.62L97.13,488.62L97.13,507.05L104.00,507.05L104.00,507.05L114.24,507.05L114.24,508.24L124.48,508.24L124.48,509.95L142.91,509.95L142.91,515.92L143.59,515.92L143.59,522.75L144.27,522.75L144.27,515.92L148.37,515.92L148.37,517.63L155.19,517.63L155.19,515.92L162.87,515.92L162.87,515.07L168.85,515.07L168.85,516.77L175.67,516.77L175.67,515.92L182.50,515.92L182.50,517.63L188.10,517.63" fill="none" stroke="#2e3140" stroke-width="0.7" stroke-linejoin="round"/><line x1="23.3" y1="409.1" x2="23.3" y2="528.9" stroke="#333333" stroke-width="0.9"/><line x1="19.7" y1="528.40" x2="23.3" y2="528.40" stroke="#333333" stroke-width="0.9"/><text x="16.90" y="531.25" font-size="7.95" font-weight="normal" text-anchor="end" fill="#262626" >0</text><line x1="19.7" y1="495.60" x2="23.3" y2="495.60" stroke="#333333" stroke-width="0.9"/><text x="16.90" y="498.45" font-size="7.95" font-weight="normal" text-anchor="end" fill="#262626" >500</text><line x1="19.7" y1="462.80" x2="23.3" y2="462.80" stroke="#333333" stroke-width="0.9"/><text x="16.90" y="465.65" font-size="7.95" font-weight="normal" text-anchor="end" fill="#262626" >1.0K</text><line x1="19.7" y1="430.00" x2="23.3" y2="430.00" stroke="#333333" stroke-width="0.9"/><text x="16.90" y="432.85" font-size="7.95" font-weight="normal" text-anchor="end" fill="#262626" >1.5K</text><line x1="23.3" y1="528.4" x2="188.1" y2="528.4" stroke="#333333" stroke-width="0.9"/><line x1="25.25" y1="528.4" x2="25.25" y2="531.8" stroke="#333333" stroke-width="0.9"/><text x="25.25" y="541.15" font-size="7.85" font-weight="normal" text-anchor="middle" fill="#262626" >1980</text><line x1="61.49" y1="528.4" x2="61.49" y2="531.8" stroke="#333333" stroke-width="0.9"/><text x="61.49" y="541.15" font-size="7.85" font-weight="normal" text-anchor="middle" fill="#262626" >1990</text><line x1="97.73" y1="528.4" x2="97.73" y2="531.8" stroke="#333333" stroke-width="0.9"/><text x="97.73" y="541.15" font-size="7.85" font-weight="normal" text-anchor="middle" fill="#262626" >2000</text><line x1="133.97" y1="528.4" x2="133.97" y2="531.8" stroke="#333333" stroke-width="0.9"/><text x="133.97" y="541.15" font-size="7.85" font-weight="normal" text-anchor="middle" fill="#262626" >2010</text><line x1="170.21" y1="528.4" x2="170.21" y2="531.8" stroke="#333333" stroke-width="0.9"/><text x="170.21" y="541.15" font-size="7.85" font-weight="normal" text-anchor="middle" fill="#262626" >2020</text><path d="M305.20,528.40L305.20,525.00L308.20,525.00L308.20,519.80L318.70,519.80L318.70,515.60L320.45,515.60L320.45,512.40L322.70,512.40L322.70,509.60L324.95,509.60L324.95,509.20L330.20,509.20L330.20,504.92L330.70,504.92L330.70,500.64L331.20,500.64L331.20,496.36L331.45,496.36L331.45,492.08L331.95,492.08L331.95,487.80L332.20,487.80L332.20,483.52L332.70,483.52L332.70,479.24L333.20,479.24L333.20,474.96L333.45,474.96L333.45,470.68L333.95,470.68L333.95,466.40L334.20,466.40L334.20,450.50L336.45,450.50L336.45,434.80L338.20,434.80L338.20,427.80L341.70,427.80L341.70,433.90L343.45,433.90L343.45,426.00L346.20,426.00L346.20,410.30L348.20,410.30L348.20,413.80L349.20,413.80L349.20,409.40L350.45,409.40L350.45,414.80L353.20,414.80L353.20,420.80L355.20,420.80L355.20,426.00L357.20,426.00L357.20,435.70L360.95,435.70L360.95,441.80L363.70,441.80L363.70,437.40L366.20,437.40L366.20,433.00L368.45,433.00L368.45,431.30L370.70,431.30L370.70,429.50L372.45,429.50L372.45,421.60L374.95,421.60L374.95,412.00L378.45,412.00L378.45,417.30L380.20,417.30L380.20,416.40L381.45,416.40L381.45,421.60L383.95,421.60L383.95,422.50L385.70,422.50L385.70,431.30L387.95,431.30L387.95,425.10L392.70,425.10L392.70,415.50L395.45,415.50L395.45,420.80L398.45,420.80L398.45,427.80L401.20,427.80L401.20,431.30L403.70,431.30L403.70,420.80L405.95,420.80L405.95,431.30L408.20,431.30L408.20,435.70L410.70,435.70L410.70,440.00L415.20,440.00L415.20,442.60L418.70,442.60L418.70,438.30L421.20,438.30L421.20,447.00L423.95,447.00L423.95,455.80L426.45,455.80L426.45,452.30L429.20,452.30L429.20,438.30L432.70,438.30L432.70,450.40L436.20,450.40L436.20,434.80L438.20,434.80L438.20,438.10L439.95,438.10L439.95,458.60L442.70,458.60L442.70,448.00L444.95,448.00L444.95,459.40L446.95,459.40L446.95,474.20L448.95,474.20L448.95,455.30L450.70,455.30L450.70,449.60L453.45,449.60L453.45,455.30L455.95,455.30L455.95,448.80L457.20,448.80L457.20,455.30L458.45,455.30L458.45,447.10L459.95,447.10L459.95,454.50L461.20,454.50L461.20,448.80L462.95,448.80L462.95,444.70L466.20,444.70L466.20,452.00L468.00,452.00L468.00,528.40Z" fill="#808080"/><path d="M305.20,528.40L305.20,525.90L308.20,525.90L308.20,520.70L318.70,520.70L318.70,516.50L320.45,516.50L320.45,513.30L322.70,513.30L322.70,510.50L324.95,510.50L324.95,510.10L330.20,510.10L330.20,505.82L330.70,505.82L330.70,501.54L331.20,501.54L331.20,497.26L331.45,497.26L331.45,492.98L331.95,492.98L331.95,488.70L332.20,488.70L332.20,484.42L332.70,484.42L332.70,480.14L333.20,480.14L333.20,475.86L333.45,475.86L333.45,471.58L333.95,471.58L333.95,467.30L334.20,467.30L334.20,451.40L336.45,451.40L336.45,435.70L338.20,435.70L338.20,428.70L341.70,428.70L341.70,434.80L343.45,434.80L343.45,426.90L346.20,426.90L346.20,411.20L348.20,411.20L348.20,414.70L349.20,414.70L349.20,410.30L350.45,410.30L350.45,415.70L353.20,415.70L353.20,421.70L355.20,421.70L355.20,426.90L357.20,426.90L357.20,436.60L360.95,436.60L360.95,442.70L363.70,442.70L363.70,438.30L366.20,438.30L366.20,433.90L368.45,433.90L368.45,432.20L370.70,432.20L370.70,430.40L372.45,430.40L372.45,422.50L374.95,422.50L374.95,412.90L378.45,412.90L378.45,418.20L380.20,418.20L380.20,417.30L381.45,417.30L381.45,422.50L383.95,422.50L383.95,423.40L385.70,423.40L385.70,432.20L387.95,432.20L387.95,426.00L392.70,426.00L392.70,416.40L395.45,416.40L395.45,421.70L398.45,421.70L398.45,428.70L401.20,428.70L401.20,432.20L403.70,432.20L403.70,421.70L405.95,421.70L405.95,432.20L408.20,432.20L408.20,436.60L410.70,436.60L410.70,440.90L415.20,440.90L415.20,443.50L418.70,443.50L418.70,439.20L421.20,439.20L421.20,447.90L423.95,447.90L423.95,456.70L426.45,456.70L426.45,453.20L429.20,453.20L429.20,439.20L432.70,439.20L432.70,451.30L436.20,451.30L436.20,435.70L438.20,435.70L438.20,439.00L439.95,439.00L439.95,459.50L442.70,459.50L442.70,448.90L444.95,448.90L444.95,460.30L446.95,460.30L446.95,475.10L448.95,475.10L448.95,456.20L450.70,456.20L450.70,450.50L453.45,450.50L453.45,456.20L455.95,456.20L455.95,449.70L457.20,449.70L457.20,456.20L458.45,456.20L458.45,448.00L459.95,448.00L459.95,455.40L461.20,455.40L461.20,449.70L462.95,449.70L462.95,445.60L466.20,445.60L466.20,452.90L468.00,452.90L468.00,528.40Z" fill="#edb565"/><path d="M305.20,528.40L305.20,525.90L308.20,525.90L308.20,520.70L318.70,520.70L318.70,516.50L320.45,516.50L320.45,513.30L322.70,513.30L322.70,510.50L324.95,510.50L324.95,510.10L330.20,510.10L330.20,505.82L330.70,505.82L330.70,501.54L331.20,501.54L331.20,497.26L331.45,497.26L331.45,492.98L331.95,492.98L331.95,488.70L332.20,488.70L332.20,484.42L332.70,484.42L332.70,480.14L333.20,480.14L333.20,475.86L333.45,475.86L333.45,471.58L333.95,471.58L333.95,467.30L334.20,467.30L334.20,451.40L336.45,451.40L336.45,435.70L338.20,435.70L338.20,429.60L341.70,429.60L341.70,434.80L343.45,434.80L343.45,427.89L346.20,427.89L346.20,414.24L348.20,414.24L348.20,414.70L349.20,414.70L349.20,414.24L350.45,414.24L350.45,415.70L351.20,415.70L351.20,421.06L353.20,421.06L353.20,421.70L355.20,421.70L355.20,426.90L356.45,426.90L356.45,446.66L358.95,446.66L358.95,444.96L364.95,444.96L364.95,438.30L366.20,438.30L366.20,436.42L371.70,436.42L371.70,430.40L372.45,430.40L372.45,422.77L378.70,422.77L378.70,427.89L385.20,427.89L385.20,429.60L385.70,429.60L385.70,432.20L387.95,432.20L387.95,430.45L392.70,430.45L392.70,421.06L394.45,421.06L394.45,425.33L397.95,425.33L397.95,433.01L402.20,433.01L402.20,443.25L403.95,443.25L403.95,429.60L405.95,429.60L405.95,432.20L406.45,432.20L406.45,446.66L415.95,446.66L415.95,456.90L419.20,456.90L419.20,448.37L421.70,448.37L421.70,455.19L423.95,455.19L423.95,456.70L425.20,456.70L425.20,461.17L429.45,461.17L429.45,448.37L432.70,448.37L432.70,451.30L436.20,451.30L436.20,444.96L439.70,444.96L439.70,467.14L443.95,467.14L443.95,464.58L446.45,464.58L446.45,478.23L448.70,478.23L448.70,475.10L448.95,475.10L448.95,462.02L453.45,462.02L453.45,460.31L463.70,460.31L463.70,451.78L466.20,451.78L466.20,452.90L468.00,452.90L468.00,528.40Z" fill="#c8abdc"/><path d="M305.20,528.40L305.20,525.90L308.20,525.90L308.20,520.70L318.70,520.70L318.70,516.50L320.45,516.50L320.45,513.30L322.70,513.30L322.70,510.50L324.95,510.50L324.95,510.10L330.20,510.10L330.20,505.82L330.70,505.82L330.70,501.54L331.20,501.54L331.20,497.26L331.45,497.26L331.45,492.98L331.95,492.98L331.95,488.70L332.20,488.70L332.20,484.42L332.70,484.42L332.70,480.14L333.20,480.14L333.20,475.86L333.45,475.86L333.45,471.58L333.95,471.58L333.95,467.30L334.20,467.30L334.20,451.40L336.45,451.40L336.45,435.70L338.20,435.70L338.20,430.60L341.70,430.60L341.70,434.80L343.45,434.80L343.45,428.89L346.20,428.89L346.20,415.24L350.45,415.24L350.45,415.70L351.20,415.70L351.20,422.06L355.20,422.06L355.20,426.90L356.45,426.90L356.45,447.66L358.95,447.66L358.95,445.96L364.95,445.96L364.95,438.30L366.20,438.30L366.20,437.42L371.70,437.42L371.70,430.40L372.45,430.40L372.45,423.77L378.70,423.77L378.70,428.89L385.20,428.89L385.20,430.60L385.70,430.60L385.70,432.20L387.95,432.20L387.95,431.45L392.70,431.45L392.70,422.06L394.45,422.06L394.45,426.33L397.95,426.33L397.95,434.01L402.20,434.01L402.20,444.25L403.95,444.25L403.95,430.60L405.95,430.60L405.95,432.20L406.45,432.20L406.45,447.66L415.95,447.66L415.95,457.90L419.20,457.90L419.20,449.37L421.70,449.37L421.70,456.19L423.95,456.19L423.95,456.70L425.20,456.70L425.20,462.17L429.45,462.17L429.45,449.37L432.70,449.37L432.70,451.30L436.20,451.30L436.20,445.96L439.70,445.96L439.70,468.14L443.95,468.14L443.95,465.58L446.45,465.58L446.45,479.23L448.70,479.23L448.70,475.10L448.95,475.10L448.95,463.02L453.45,463.02L453.45,461.31L463.70,461.31L463.70,452.78L466.20,452.78L466.20,452.90L468.00,452.90L468.00,528.40Z" fill="#b5e68e"/><path d="M305.20,528.40L305.20,525.90L308.20,525.90L308.20,522.41L317.95,522.41L317.95,520.70L318.70,520.70L318.70,516.50L320.45,516.50L320.45,516.26L324.95,516.26L324.95,513.36L329.95,513.36L329.95,512.51L331.70,512.51L331.70,497.15L333.45,497.15L333.45,473.26L334.20,473.26L334.20,466.43L336.70,466.43L336.70,457.90L341.95,457.90L341.95,454.49L346.20,454.49L346.20,439.98L351.20,439.98L351.20,447.66L356.45,447.66L356.45,466.43L358.95,466.43L358.95,457.05L364.95,457.05L364.95,451.08L371.70,451.08L371.70,435.72L378.70,435.72L378.70,439.13L392.70,439.13L392.70,430.60L394.45,430.60L394.45,434.01L397.95,434.01L397.95,439.13L402.20,439.13L402.20,447.66L403.95,447.66L403.95,437.42L406.45,437.42L406.45,451.08L415.95,451.08L415.95,461.31L419.20,461.31L419.20,454.49L421.70,454.49L421.70,459.61L425.20,459.61L425.20,463.02L429.45,463.02L429.45,451.08L432.70,451.08L432.70,451.30L436.20,451.30L436.20,449.37L439.70,449.37L439.70,469.85L443.95,469.85L443.95,466.43L446.45,466.43L446.45,480.09L448.70,480.09L448.70,475.10L448.95,475.10L448.95,464.73L453.45,464.73L453.45,463.02L463.70,463.02L463.70,454.49L468.00,454.49L468.00,528.40Z" fill="#ee5c9a"/><path d="M305.20,528.40L305.20,525.90L308.20,525.90L308.20,523.60L317.95,523.60L317.95,520.70L318.70,520.70L318.70,517.63L329.95,517.63L329.95,515.92L331.70,515.92L331.70,498.86L333.45,498.86L333.45,476.67L334.20,476.67L334.20,469.85L336.70,469.85L336.70,461.31L341.95,461.31L341.95,456.19L346.20,456.19L346.20,445.96L351.20,445.96L351.20,451.08L356.45,451.08L356.45,468.14L358.95,468.14L358.95,459.61L364.95,459.61L364.95,457.90L371.70,457.90L371.70,444.25L385.20,444.25L385.20,449.37L387.70,449.37L387.70,445.96L392.70,445.96L392.70,437.42L394.45,437.42L394.45,440.84L397.95,440.84L397.95,447.66L402.20,447.66L402.20,454.49L403.95,454.49L403.95,444.25L406.45,444.25L406.45,456.19L415.95,456.19L415.95,464.73L419.20,464.73L419.20,457.90L421.70,457.90L421.70,463.02L425.20,463.02L425.20,466.43L429.45,466.43L429.45,456.19L436.20,456.19L436.20,454.49L439.70,454.49L439.70,473.26L443.95,473.26L443.95,468.14L446.45,468.14L446.45,483.50L448.70,483.50L448.70,475.10L448.95,475.10L448.95,469.85L453.45,469.85L453.45,466.43L463.70,466.43L463.70,457.90L468.00,457.90L468.00,528.40Z" fill="#abd5e6"/><path d="M305.20,522.75L328.16,522.75L328.16,514.22L330.72,514.22L330.72,509.10L334.13,509.10L334.13,507.73L342.66,507.73L342.66,505.68L346.93,505.68L346.93,507.05L351.19,507.05L351.19,509.10L358.02,509.10L358.02,511.14L363.14,511.14L363.14,512.51L365.70,512.51L365.70,500.56L368.26,500.56L368.26,498.86L378.50,498.86L378.50,500.56L385.00,500.56L385.00,503.98L390.12,503.98L390.12,503.12L402.06,503.12L402.06,501.42L403.77,501.42L403.77,504.83L412.30,504.83L412.30,504.83L421.69,504.83L421.69,503.12L423.91,503.12L423.91,510.80L425.10,510.80L425.10,503.98L427.66,503.98L427.66,506.02L436.19,506.02L436.19,505.34L468.00,505.34" fill="none" stroke="#ffffff" stroke-opacity="0.2" stroke-width="1.9" stroke-linejoin="round"/><path d="M305.20,522.75L328.16,522.75L328.16,514.22L330.72,514.22L330.72,509.10L334.13,509.10L334.13,507.73L342.66,507.73L342.66,505.68L346.93,505.68L346.93,507.05L351.19,507.05L351.19,509.10L358.02,509.10L358.02,511.14L363.14,511.14L363.14,512.51L365.70,512.51L365.70,500.56L368.26,500.56L368.26,498.86L378.50,498.86L378.50,500.56L385.00,500.56L385.00,503.98L390.12,503.98L390.12,503.12L402.06,503.12L402.06,501.42L403.77,501.42L403.77,504.83L412.30,504.83L412.30,504.83L421.69,504.83L421.69,503.12L423.91,503.12L423.91,510.80L425.10,510.80L425.10,503.98L427.66,503.98L427.66,506.02L436.19,506.02L436.19,505.34L468.00,505.34" fill="none" stroke="#2e3140" stroke-width="0.7" stroke-linejoin="round"/><line x1="305.2" y1="409.1" x2="305.2" y2="528.9" stroke="#333333" stroke-width="0.9"/><line x1="301.59999999999997" y1="528.40" x2="305.2" y2="528.40" stroke="#333333" stroke-width="0.9"/><text x="298.80" y="531.25" font-size="7.95" font-weight="normal" text-anchor="end" fill="#262626" >0</text><line x1="301.59999999999997" y1="496.35" x2="305.2" y2="496.35" stroke="#333333" stroke-width="0.9"/><text x="298.80" y="499.20" font-size="7.95" font-weight="normal" text-anchor="end" fill="#262626" >250K</text><line x1="301.59999999999997" y1="464.30" x2="305.2" y2="464.30" stroke="#333333" stroke-width="0.9"/><text x="298.80" y="467.15" font-size="7.95" font-weight="normal" text-anchor="end" fill="#262626" >500K</text><line x1="301.59999999999997" y1="432.25" x2="305.2" y2="432.25" stroke="#333333" stroke-width="0.9"/><text x="298.80" y="435.10" font-size="7.95" font-weight="normal" text-anchor="end" fill="#262626" >750K</text><line x1="305.2" y1="528.4" x2="468.0" y2="528.4" stroke="#333333" stroke-width="0.9"/><line x1="307.30" y1="528.4" x2="307.30" y2="531.8" stroke="#333333" stroke-width="0.9"/><text x="307.30" y="541.15" font-size="7.85" font-weight="normal" text-anchor="middle" fill="#262626" >1980</text><line x1="343.09" y1="528.4" x2="343.09" y2="531.8" stroke="#333333" stroke-width="0.9"/><text x="343.09" y="541.15" font-size="7.85" font-weight="normal" text-anchor="middle" fill="#262626" >1990</text><line x1="378.88" y1="528.4" x2="378.88" y2="531.8" stroke="#333333" stroke-width="0.9"/><text x="378.88" y="541.15" font-size="7.85" font-weight="normal" text-anchor="middle" fill="#262626" >2000</text><line x1="414.67" y1="528.4" x2="414.67" y2="531.8" stroke="#333333" stroke-width="0.9"/><text x="414.67" y="541.15" font-size="7.85" font-weight="normal" text-anchor="middle" fill="#262626" >2010</text><line x1="450.46" y1="528.4" x2="450.46" y2="531.8" stroke="#333333" stroke-width="0.9"/><text x="450.46" y="541.15" font-size="7.85" font-weight="normal" text-anchor="middle" fill="#262626" >2020</text><rect x="219.0" y="484.86" width="53.0" height="43.54" fill="#abd5e6"/><rect x="219.0" y="454.67" width="53.0" height="30.18" fill="#ee5c9a"/><rect x="219.0" y="426.16" width="53.0" height="28.51" fill="#b5e68e"/><rect x="219.0" y="416.02" width="53.0" height="10.14" fill="#c8abdc"/><rect x="219.0" y="411.13" width="53.0" height="4.89" fill="#edb565"/><rect x="219.0" y="409.10" width="53.0" height="2.03" fill="#808080"/><text x="245.50" y="509.73" font-size="7.45" text-anchor="middle" fill="#2a2a2a" stroke="#fff" stroke-width="1.7" stroke-linejoin="round" paint-order="stroke">36.5%</text><text x="245.50" y="472.86" font-size="7.45" text-anchor="middle" fill="#2a2a2a" stroke="#fff" stroke-width="1.7" stroke-linejoin="round" paint-order="stroke">25.3%</text><text x="245.50" y="443.52" font-size="7.45" text-anchor="middle" fill="#2a2a2a" stroke="#fff" stroke-width="1.7" stroke-linejoin="round" paint-order="stroke">23.9%</text><text x="245.50" y="424.19" font-size="7.45" text-anchor="middle" fill="#2a2a2a" stroke="#fff" stroke-width="1.7" stroke-linejoin="round" paint-order="stroke">8.5%</text><line x1="219.0" y1="409.1" x2="219.0" y2="528.8" stroke="#333333" stroke-width="0.9"/><line x1="219.0" y1="528.4" x2="272.0" y2="528.4" stroke="#333333" stroke-width="0.9"/><rect x="501.0" y="437.97" width="51.0" height="90.43" fill="#abd5e6"/><rect x="501.0" y="431.65" width="51.0" height="6.32" fill="#ee5c9a"/><rect x="501.0" y="420.19" width="51.0" height="11.45" fill="#b5e68e"/><rect x="501.0" y="419.24" width="51.0" height="0.95" fill="#c8abdc"/><rect x="501.0" y="409.94" width="51.0" height="9.31" fill="#edb565"/><rect x="501.0" y="409.10" width="51.0" height="0.84" fill="#808080"/><text x="526.50" y="486.29" font-size="7.45" text-anchor="middle" fill="#2a2a2a" stroke="#fff" stroke-width="1.7" stroke-linejoin="round" paint-order="stroke">75.8%</text><text x="526.50" y="429.02" font-size="7.45" text-anchor="middle" fill="#2a2a2a" stroke="#fff" stroke-width="1.7" stroke-linejoin="round" paint-order="stroke">9.6%</text><text x="526.50" y="417.69" font-size="7.45" text-anchor="middle" fill="#2a2a2a" stroke="#fff" stroke-width="1.7" stroke-linejoin="round" paint-order="stroke">7.8%</text><line x1="501.0" y1="409.1" x2="501.0" y2="528.8" stroke="#333333" stroke-width="0.9"/><line x1="501.0" y1="528.4" x2="552.0" y2="528.4" stroke="#333333" stroke-width="0.9"/><text x="563.50" y="448.00" font-size="8.05" font-weight="bold" text-anchor="start" fill="#1a1a1a" >Vessel type</text><circle cx="567" cy="460.40" r="2.6" fill="#abd5e6" stroke="#000" stroke-width="0.95"/><text x="578.80" y="462.75" font-size="6.65" font-weight="normal" text-anchor="start" fill="#262626" >Tuna purse seiners</text><circle cx="567" cy="468.02" r="2.6" fill="#ee5c9a" stroke="#000" stroke-width="0.95"/><text x="578.80" y="470.37" font-size="6.65" font-weight="normal" text-anchor="start" fill="#262626" >Pole-and-liners &amp; surface longliners</text><circle cx="567" cy="475.64" r="2.6" fill="#b5e68e" stroke="#000" stroke-width="0.95"/><text x="578.80" y="477.99" font-size="6.65" font-weight="normal" text-anchor="start" fill="#262626" >Bottom trawlers &amp; dredgers</text><circle cx="567" cy="483.26" r="2.6" fill="#c8abdc" stroke="#000" stroke-width="0.95"/><text x="578.80" y="485.61" font-size="6.65" font-weight="normal" text-anchor="start" fill="#262626" >Other vessels</text><circle cx="567" cy="490.88" r="2.6" fill="#edb565" stroke="#000" stroke-width="0.95"/><text x="578.80" y="493.23" font-size="6.65" font-weight="normal" text-anchor="start" fill="#262626" >Pelagic trawlers &amp; seiners</text><circle cx="567" cy="498.50" r="2.6" fill="#808080" stroke="#000" stroke-width="0.95"/><text x="578.80" y="500.85" font-size="6.65" font-weight="normal" text-anchor="start" fill="#262626" >Undet. vessels</text><text x="23.6" y="578.1" font-size="10.2" font-weight="bold" fill="#000" textLength="104.6" lengthAdjust="spacing">D - By target species</text><text x="105.70" y="594.55" font-size="8.0" font-weight="bold" text-anchor="middle" fill="#1a1a1a" >In vessel number</text><text x="245.50" y="594.55" font-size="8.0" font-weight="bold" text-anchor="middle" fill="#1a1a1a" >Overall</text><text x="386.60" y="594.55" font-size="8.0" font-weight="bold" text-anchor="middle" fill="#1a1a1a" >In tonnage</text><text x="526.50" y="594.55" font-size="8.0" font-weight="bold" text-anchor="middle" fill="#1a1a1a" >Overall</text><path d="M23.30,718.40L23.30,713.90L25.80,713.90L25.80,709.10L36.80,709.10L36.80,702.90L43.30,702.90L43.30,699.30L47.55,699.30L47.55,696.15L48.05,696.15L48.05,693.01L48.55,693.01L48.55,689.86L48.80,689.86L48.80,686.72L49.30,686.72L49.30,683.57L49.80,683.57L49.80,680.42L50.30,680.42L50.30,677.28L50.55,677.28L50.55,674.13L51.05,674.13L51.05,670.98L51.55,670.98L51.55,667.84L51.80,667.84L51.80,664.69L52.30,664.69L52.30,661.55L52.80,661.55L52.80,648.40L54.55,648.40L54.55,615.40L56.05,615.40L56.05,612.80L59.05,612.80L59.05,610.10L60.05,610.10L60.05,618.00L60.80,618.00L60.80,611.90L62.55,611.90L62.55,614.50L63.80,614.50L63.80,612.80L65.30,612.80L65.30,602.30L67.30,602.30L67.30,604.00L68.30,604.00L68.30,605.80L69.55,605.80L69.55,618.90L70.55,618.90L70.55,605.80L70.80,605.80L70.80,604.90L74.05,604.90L74.05,611.90L75.30,611.90L75.30,617.10L76.30,617.10L76.30,625.90L77.55,625.90L77.55,618.90L78.80,618.90L78.80,625.00L81.05,625.00L81.05,661.90L83.05,661.90L83.05,620.60L84.80,620.60L84.80,617.10L85.80,617.10L85.80,626.80L88.05,626.80L88.05,612.80L88.55,612.80L88.55,612.00L88.80,612.00L88.80,611.20L89.30,611.20L89.30,610.40L89.80,610.40L89.80,609.60L90.30,609.60L90.30,608.80L90.55,608.80L90.55,608.00L91.05,608.00L91.05,607.20L91.55,607.20L91.55,606.40L92.05,606.40L92.05,605.60L92.30,605.60L92.30,604.80L92.80,604.80L92.80,604.00L93.30,604.00L93.30,603.56L93.80,603.56L93.80,603.12L94.05,603.12L94.05,602.68L94.55,602.68L94.55,602.24L95.05,602.24L95.05,601.80L95.55,601.80L95.55,601.36L95.80,601.36L95.80,600.92L96.30,600.92L96.30,600.48L96.80,600.48L96.80,600.04L97.30,600.04L97.30,629.40L100.30,629.40L100.30,633.80L102.80,633.80L102.80,630.50L104.80,630.50L104.80,641.90L106.80,641.90L106.80,635.80L111.55,635.80L111.55,630.90L114.05,630.90L114.05,637.50L117.05,637.50L117.05,645.40L118.55,645.40L118.55,648.00L121.05,648.00L121.05,655.90L123.30,655.90L123.30,639.30L125.05,639.30L125.05,646.40L127.30,646.40L127.30,650.60L129.80,650.60L129.80,653.90L135.05,653.90L135.05,657.70L138.55,657.70L138.55,654.20L140.80,654.20L140.80,667.30L141.30,667.30L141.30,667.00L143.30,667.00L143.30,676.50L144.80,676.50L144.80,678.90L147.30,678.90L147.30,673.60L149.55,673.60L149.55,665.50L151.05,665.50L151.05,672.80L154.80,672.80L154.80,664.10L158.80,664.10L158.80,669.20L159.80,669.20L159.80,675.80L162.80,675.80L162.80,669.90L164.30,669.90L164.30,680.90L166.80,680.90L166.80,686.70L168.80,686.70L168.80,675.00L170.80,675.00L170.80,672.10L174.55,672.10L174.55,673.90L176.05,673.90L176.05,671.40L182.55,671.40L182.55,667.80L183.05,667.80L183.05,672.10L183.80,672.10L183.80,676.50L186.55,676.50L186.55,679.40L187.55,679.40L187.55,685.30L188.10,685.30L188.10,718.40Z" fill="#f688f6"/><path d="M23.30,718.40L23.30,713.90L25.80,713.90L25.80,709.10L36.80,709.10L36.80,702.90L43.30,702.90L43.30,699.30L47.55,699.30L47.55,696.15L48.05,696.15L48.05,693.01L48.55,693.01L48.55,689.86L48.80,689.86L48.80,686.72L49.30,686.72L49.30,683.57L49.80,683.57L49.80,680.42L50.30,680.42L50.30,677.28L50.55,677.28L50.55,674.13L51.05,674.13L51.05,670.98L51.55,670.98L51.55,667.84L51.80,667.84L51.80,664.69L52.30,664.69L52.30,661.55L52.80,661.55L52.80,648.40L54.55,648.40L54.55,615.40L55.05,615.40L55.05,616.33L60.05,616.33L60.05,618.00L60.80,618.00L60.80,616.33L61.05,616.33L61.05,613.77L62.55,613.77L62.55,614.50L63.80,614.50L63.80,613.77L64.55,613.77L64.55,612.80L65.30,612.80L65.30,606.95L69.55,606.95L69.55,618.90L70.55,618.90L70.55,610.36L74.05,610.36L74.05,611.90L74.80,611.90L74.80,625.72L76.30,625.72L76.30,625.90L77.55,625.90L77.55,625.72L80.80,625.72L80.80,666.67L82.80,666.67L82.80,661.90L83.05,661.90L83.05,622.30L83.30,622.30L83.30,621.73L83.80,621.73L83.80,621.15L84.05,621.15L84.05,620.60L84.80,620.60L84.80,619.99L85.05,619.99L85.05,619.42L85.30,619.42L85.30,618.84L85.80,618.84L85.80,626.80L88.05,626.80L88.05,615.38L88.30,615.38L88.30,614.80L88.80,614.80L88.80,614.22L89.05,614.22L89.05,613.65L89.55,613.65L89.55,613.07L89.80,613.07L89.80,612.49L90.30,612.49L90.30,611.91L90.80,611.91L90.80,611.34L91.05,611.34L91.05,610.76L91.55,610.76L91.55,610.18L92.05,610.18L92.05,609.61L92.30,609.61L92.30,609.03L92.80,609.03L92.80,608.45L93.30,608.45L93.30,607.87L93.55,607.87L93.55,607.30L94.05,607.30L94.05,606.72L94.55,606.72L94.55,606.14L94.80,606.14L94.80,605.57L95.30,605.57L95.30,604.99L95.80,604.99L95.80,604.41L96.05,604.41L96.05,603.83L96.55,603.83L96.55,603.26L96.80,603.26L96.80,602.68L97.30,602.68L97.30,629.40L97.80,629.40L97.80,632.54L100.30,632.54L100.30,633.80L102.80,633.80L102.80,632.54L104.05,632.54L104.05,633.40L104.80,633.40L104.80,641.90L106.80,641.90L106.80,636.81L111.80,636.81L111.80,631.69L113.55,631.69L113.55,639.37L116.80,639.37L116.80,647.90L118.55,647.90L118.55,648.00L121.05,648.00L121.05,655.90L123.30,655.90L123.30,642.78L125.05,642.78L125.05,646.40L125.55,646.40L125.55,656.43L131.55,656.43L131.55,663.26L140.80,663.26L140.80,670.09L143.30,670.09L143.30,680.32L146.05,680.32L146.05,678.90L147.30,678.90L147.30,678.62L149.30,678.62L149.30,673.60L149.55,673.60L149.55,671.79L151.05,671.79L151.05,672.80L154.80,672.80L154.80,671.79L155.30,671.79L155.30,666.67L158.80,666.67L158.80,675.20L159.80,675.20L159.80,675.80L162.80,675.80L162.80,675.20L163.05,675.20L163.05,671.79L164.30,671.79L164.30,680.90L164.80,680.90L164.80,682.03L166.80,682.03L166.80,686.70L167.30,686.70L167.30,692.27L168.55,692.27L168.55,686.70L168.80,686.70L168.80,675.20L182.55,675.20L182.55,680.32L187.55,680.32L187.55,685.30L188.10,685.30L188.10,718.40Z" fill="#c43a9b"/><path d="M23.30,718.40L23.30,714.45L26.05,714.45L26.05,712.75L36.80,712.75L36.80,705.92L48.30,705.92L48.30,704.22L49.55,704.22L49.55,697.39L50.80,697.39L50.80,685.44L52.55,685.44L52.55,675.20L56.05,675.20L56.05,672.65L61.05,672.65L61.05,675.20L64.55,675.20L64.55,661.55L70.55,661.55L70.55,668.38L74.80,668.38L74.80,678.62L80.80,678.62L80.80,680.32L82.80,680.32L82.80,678.62L88.30,678.62L88.30,666.67L93.55,666.67L93.55,654.73L97.80,654.73L97.80,653.02L104.05,653.02L104.05,659.85L106.80,659.85L106.80,656.43L111.80,656.43L111.80,653.87L113.55,653.87L113.55,658.14L116.80,658.14L116.80,663.26L121.30,663.26L121.30,673.50L122.80,673.50L122.80,663.26L125.55,663.26L125.55,668.38L131.55,668.38L131.55,671.79L140.80,671.79L140.80,678.62L143.30,678.62L143.30,683.74L146.05,683.74L146.05,682.03L149.30,682.03L149.30,678.62L155.30,678.62L155.30,676.91L158.80,676.91L158.80,683.74L163.05,683.74L163.05,680.32L164.30,680.32L164.30,680.90L164.80,680.90L164.80,687.15L167.30,687.15L167.30,697.39L168.55,697.39L168.55,687.15L182.55,687.15L182.55,685.44L188.10,685.44L188.10,718.40Z" fill="#e5e88a"/><path d="M23.30,713.43L36.72,713.43L36.72,713.09L47.30,713.09L47.30,705.92L49.01,705.92L49.01,700.80L54.13,700.80L54.13,697.05L56.69,697.05L56.69,698.24L60.96,698.24L60.96,693.98L64.37,693.98L64.37,693.12L69.49,693.12L69.49,688.86L71.19,688.86L71.19,690.90L76.31,690.90L76.31,693.63L80.58,693.63L80.58,705.07L82.46,705.07L82.46,680.32L83.48,680.32L83.48,677.25L91.67,677.25L91.67,678.62L97.13,678.62L97.13,697.05L104.00,697.05L104.00,697.05L114.24,697.05L114.24,698.24L124.48,698.24L124.48,699.95L142.91,699.95L142.91,705.92L143.59,705.92L143.59,712.75L144.27,712.75L144.27,705.92L148.37,705.92L148.37,707.63L155.19,707.63L155.19,705.92L162.87,705.92L162.87,705.07L168.85,705.07L168.85,706.77L175.67,706.77L175.67,705.92L182.50,705.92L182.50,707.63L188.10,707.63" fill="none" stroke="#ffffff" stroke-opacity="0.2" stroke-width="1.9" stroke-linejoin="round"/><path d="M23.30,713.43L36.72,713.43L36.72,713.09L47.30,713.09L47.30,705.92L49.01,705.92L49.01,700.80L54.13,700.80L54.13,697.05L56.69,697.05L56.69,698.24L60.96,698.24L60.96,693.98L64.37,693.98L64.37,693.12L69.49,693.12L69.49,688.86L71.19,688.86L71.19,690.90L76.31,690.90L76.31,693.63L80.58,693.63L80.58,705.07L82.46,705.07L82.46,680.32L83.48,680.32L83.48,677.25L91.67,677.25L91.67,678.62L97.13,678.62L97.13,697.05L104.00,697.05L104.00,697.05L114.24,697.05L114.24,698.24L124.48,698.24L124.48,699.95L142.91,699.95L142.91,705.92L143.59,705.92L143.59,712.75L144.27,712.75L144.27,705.92L148.37,705.92L148.37,707.63L155.19,707.63L155.19,705.92L162.87,705.92L162.87,705.07L168.85,705.07L168.85,706.77L175.67,706.77L175.67,705.92L182.50,705.92L182.50,707.63L188.10,707.63" fill="none" stroke="#2e3140" stroke-width="0.7" stroke-linejoin="round"/><line x1="23.3" y1="599.1" x2="23.3" y2="718.9" stroke="#333333" stroke-width="0.9"/><line x1="19.7" y1="718.40" x2="23.3" y2="718.40" stroke="#333333" stroke-width="0.9"/><text x="16.90" y="721.25" font-size="7.95" font-weight="normal" text-anchor="end" fill="#262626" >0</text><line x1="19.7" y1="685.60" x2="23.3" y2="685.60" stroke="#333333" stroke-width="0.9"/><text x="16.90" y="688.45" font-size="7.95" font-weight="normal" text-anchor="end" fill="#262626" >500</text><line x1="19.7" y1="652.80" x2="23.3" y2="652.80" stroke="#333333" stroke-width="0.9"/><text x="16.90" y="655.65" font-size="7.95" font-weight="normal" text-anchor="end" fill="#262626" >1.0K</text><line x1="19.7" y1="620.00" x2="23.3" y2="620.00" stroke="#333333" stroke-width="0.9"/><text x="16.90" y="622.85" font-size="7.95" font-weight="normal" text-anchor="end" fill="#262626" >1.5K</text><line x1="23.3" y1="718.4" x2="188.1" y2="718.4" stroke="#333333" stroke-width="0.9"/><line x1="25.25" y1="718.4" x2="25.25" y2="721.8" stroke="#333333" stroke-width="0.9"/><text x="25.25" y="731.15" font-size="7.85" font-weight="normal" text-anchor="middle" fill="#262626" >1980</text><line x1="61.49" y1="718.4" x2="61.49" y2="721.8" stroke="#333333" stroke-width="0.9"/><text x="61.49" y="731.15" font-size="7.85" font-weight="normal" text-anchor="middle" fill="#262626" >1990</text><line x1="97.73" y1="718.4" x2="97.73" y2="721.8" stroke="#333333" stroke-width="0.9"/><text x="97.73" y="731.15" font-size="7.85" font-weight="normal" text-anchor="middle" fill="#262626" >2000</text><line x1="133.97" y1="718.4" x2="133.97" y2="721.8" stroke="#333333" stroke-width="0.9"/><text x="133.97" y="731.15" font-size="7.85" font-weight="normal" text-anchor="middle" fill="#262626" >2010</text><line x1="170.21" y1="718.4" x2="170.21" y2="721.8" stroke="#333333" stroke-width="0.9"/><text x="170.21" y="731.15" font-size="7.85" font-weight="normal" text-anchor="middle" fill="#262626" >2020</text><path d="M305.20,718.40L305.20,715.00L308.20,715.00L308.20,709.80L318.70,709.80L318.70,705.60L320.45,705.60L320.45,702.40L322.70,702.40L322.70,699.60L324.95,699.60L324.95,699.20L330.20,699.20L330.20,694.92L330.70,694.92L330.70,690.64L331.20,690.64L331.20,686.36L331.45,686.36L331.45,682.08L331.95,682.08L331.95,677.80L332.20,677.80L332.20,673.52L332.70,673.52L332.70,669.24L333.20,669.24L333.20,664.96L333.45,664.96L333.45,660.68L333.95,660.68L333.95,656.40L334.20,656.40L334.20,640.50L336.45,640.50L336.45,624.80L338.20,624.80L338.20,617.80L341.70,617.80L341.70,623.90L343.45,623.90L343.45,616.00L346.20,616.00L346.20,600.30L348.20,600.30L348.20,603.80L349.20,603.80L349.20,599.40L350.45,599.40L350.45,604.80L353.20,604.80L353.20,610.80L355.20,610.80L355.20,616.00L357.20,616.00L357.20,625.70L360.95,625.70L360.95,631.80L363.70,631.80L363.70,627.40L366.20,627.40L366.20,623.00L368.45,623.00L368.45,621.30L370.70,621.30L370.70,619.50L372.45,619.50L372.45,611.60L374.95,611.60L374.95,602.00L378.45,602.00L378.45,607.30L380.20,607.30L380.20,606.40L381.45,606.40L381.45,611.60L383.95,611.60L383.95,612.50L385.70,612.50L385.70,621.30L387.95,621.30L387.95,615.10L392.70,615.10L392.70,605.50L395.45,605.50L395.45,610.80L398.45,610.80L398.45,617.80L401.20,617.80L401.20,621.30L403.70,621.30L403.70,610.80L405.95,610.80L405.95,621.30L408.20,621.30L408.20,625.70L410.70,625.70L410.70,630.00L415.20,630.00L415.20,632.60L418.70,632.60L418.70,628.30L421.20,628.30L421.20,637.00L423.95,637.00L423.95,645.80L426.45,645.80L426.45,642.30L429.20,642.30L429.20,628.30L432.70,628.30L432.70,640.40L436.20,640.40L436.20,624.80L438.20,624.80L438.20,628.10L439.95,628.10L439.95,648.60L442.70,648.60L442.70,638.00L444.95,638.00L444.95,649.40L446.95,649.40L446.95,664.20L448.95,664.20L448.95,645.30L450.70,645.30L450.70,639.60L453.45,639.60L453.45,645.30L455.95,645.30L455.95,638.80L457.20,638.80L457.20,645.30L458.45,645.30L458.45,637.10L459.95,637.10L459.95,644.50L461.20,644.50L461.20,638.80L462.95,638.80L462.95,634.70L466.20,634.70L466.20,642.00L468.00,642.00L468.00,718.40Z" fill="#f688f6"/><path d="M305.20,718.40L305.20,715.00L308.20,715.00L308.20,709.80L318.70,709.80L318.70,705.60L320.45,705.60L320.45,702.40L322.70,702.40L322.70,699.60L324.95,699.60L324.95,699.20L330.20,699.20L330.20,694.92L330.70,694.92L330.70,690.64L331.20,690.64L331.20,686.36L331.45,686.36L331.45,682.08L331.95,682.08L331.95,677.80L332.20,677.80L332.20,673.52L332.70,673.52L332.70,669.24L333.20,669.24L333.20,664.96L333.45,664.96L333.45,660.68L333.95,660.68L333.95,656.40L334.20,656.40L334.20,640.50L336.45,640.50L336.45,624.80L338.20,624.80L338.20,620.60L341.70,620.60L341.70,623.90L343.45,623.90L343.45,617.18L346.20,617.18L346.20,601.83L348.20,601.83L348.20,603.80L349.20,603.80L349.20,601.83L349.70,601.83L349.70,612.06L355.20,612.06L355.20,616.00L356.45,616.00L356.45,625.72L358.95,625.72L358.95,629.13L360.95,629.13L360.95,631.80L363.70,631.80L363.70,629.13L364.95,629.13L364.95,630.84L370.20,630.84L370.20,621.30L370.70,621.30L370.70,619.50L372.45,619.50L372.45,615.48L375.20,615.48L375.20,610.36L378.70,610.36L378.70,618.89L385.20,618.89L385.20,620.60L385.70,620.60L385.70,621.30L387.95,621.30L387.95,620.60L392.70,620.60L392.70,611.21L394.45,611.21L394.45,617.18L397.95,617.18L397.95,625.72L402.20,625.72L402.20,634.25L403.95,634.25L403.95,625.72L406.45,625.72L406.45,634.25L408.95,634.25L408.95,637.66L416.70,637.66L416.70,642.78L419.20,642.78L419.20,637.66L421.70,637.66L421.70,651.31L425.20,651.31L425.20,653.02L428.70,653.02L428.70,642.30L429.20,642.30L429.20,641.08L431.95,641.08L431.95,646.19L435.45,646.19L435.45,640.40L436.20,640.40L436.20,635.96L439.70,635.96L439.70,659.85L443.95,659.85L443.95,654.73L446.45,654.73L446.45,668.38L448.70,668.38L448.70,664.20L448.95,664.20L448.95,653.02L453.45,653.02L453.45,654.73L463.70,654.73L463.70,642.78L468.00,642.78L468.00,718.40Z" fill="#c43a9b"/><path d="M305.20,718.40L305.20,715.00L308.20,715.00L308.20,712.41L317.95,712.41L317.95,709.80L318.70,709.80L318.70,708.48L320.70,708.48L320.70,705.07L325.70,705.07L325.70,702.51L329.95,702.51L329.95,699.20L330.20,699.20L330.20,697.39L331.70,697.39L331.70,682.08L331.95,682.08L331.95,680.32L333.45,680.32L333.45,663.26L334.20,663.26L334.20,656.43L336.70,656.43L336.70,647.90L341.95,647.90L341.95,646.19L346.20,646.19L346.20,629.13L349.70,629.13L349.70,639.37L352.95,639.37L352.95,637.66L356.45,637.66L356.45,656.43L358.95,656.43L358.95,644.49L364.95,644.49L364.95,646.19L370.20,646.19L370.20,632.54L375.20,632.54L375.20,624.86L378.70,624.86L378.70,629.13L385.20,629.13L385.20,635.96L387.70,635.96L387.70,629.13L392.70,629.13L392.70,620.60L394.45,620.60L394.45,624.01L397.95,624.01L397.95,630.84L402.20,630.84L402.20,639.37L403.95,639.37L403.95,629.13L406.45,629.13L406.45,635.96L408.95,635.96L408.95,643.63L416.70,643.63L416.70,649.61L419.20,649.61L419.20,642.78L421.70,642.78L421.70,654.73L425.20,654.73L425.20,653.02L428.70,653.02L428.70,644.49L431.95,644.49L431.95,646.19L435.45,646.19L435.45,640.40L436.20,640.40L436.20,639.37L439.70,639.37L439.70,661.55L443.95,661.55L443.95,658.14L446.45,658.14L446.45,671.79L448.70,671.79L448.70,664.20L448.95,664.20L448.95,661.55L453.45,661.55L453.45,659.85L463.70,659.85L463.70,646.19L468.00,646.19L468.00,718.40Z" fill="#e5e88a"/><path d="M305.20,712.75L328.16,712.75L328.16,704.22L330.72,704.22L330.72,699.10L334.13,699.10L334.13,697.73L342.66,697.73L342.66,695.68L346.93,695.68L346.93,697.05L351.19,697.05L351.19,699.10L358.02,699.10L358.02,701.14L363.14,701.14L363.14,702.51L365.70,702.51L365.70,690.56L368.26,690.56L368.26,688.86L378.50,688.86L378.50,690.56L385.00,690.56L385.00,693.98L390.12,693.98L390.12,693.12L402.06,693.12L402.06,691.42L403.77,691.42L403.77,694.83L412.30,694.83L412.30,694.83L421.69,694.83L421.69,693.12L423.91,693.12L423.91,700.80L425.10,700.80L425.10,693.98L427.66,693.98L427.66,696.02L436.19,696.02L436.19,695.34L468.00,695.34" fill="none" stroke="#ffffff" stroke-opacity="0.2" stroke-width="1.9" stroke-linejoin="round"/><path d="M305.20,712.75L328.16,712.75L328.16,704.22L330.72,704.22L330.72,699.10L334.13,699.10L334.13,697.73L342.66,697.73L342.66,695.68L346.93,695.68L346.93,697.05L351.19,697.05L351.19,699.10L358.02,699.10L358.02,701.14L363.14,701.14L363.14,702.51L365.70,702.51L365.70,690.56L368.26,690.56L368.26,688.86L378.50,688.86L378.50,690.56L385.00,690.56L385.00,693.98L390.12,693.98L390.12,693.12L402.06,693.12L402.06,691.42L403.77,691.42L403.77,694.83L412.30,694.83L412.30,694.83L421.69,694.83L421.69,693.12L423.91,693.12L423.91,700.80L425.10,700.80L425.10,693.98L427.66,693.98L427.66,696.02L436.19,696.02L436.19,695.34L468.00,695.34" fill="none" stroke="#2e3140" stroke-width="0.7" stroke-linejoin="round"/><line x1="305.2" y1="599.1" x2="305.2" y2="718.9" stroke="#333333" stroke-width="0.9"/><line x1="301.59999999999997" y1="718.40" x2="305.2" y2="718.40" stroke="#333333" stroke-width="0.9"/><text x="298.80" y="721.25" font-size="7.95" font-weight="normal" text-anchor="end" fill="#262626" >0</text><line x1="301.59999999999997" y1="686.35" x2="305.2" y2="686.35" stroke="#333333" stroke-width="0.9"/><text x="298.80" y="689.20" font-size="7.95" font-weight="normal" text-anchor="end" fill="#262626" >250K</text><line x1="301.59999999999997" y1="654.30" x2="305.2" y2="654.30" stroke="#333333" stroke-width="0.9"/><text x="298.80" y="657.15" font-size="7.95" font-weight="normal" text-anchor="end" fill="#262626" >500K</text><line x1="301.59999999999997" y1="622.25" x2="305.2" y2="622.25" stroke="#333333" stroke-width="0.9"/><text x="298.80" y="625.10" font-size="7.95" font-weight="normal" text-anchor="end" fill="#262626" >750K</text><line x1="305.2" y1="718.4" x2="468.0" y2="718.4" stroke="#333333" stroke-width="0.9"/><line x1="307.30" y1="718.4" x2="307.30" y2="721.8" stroke="#333333" stroke-width="0.9"/><text x="307.30" y="731.15" font-size="7.85" font-weight="normal" text-anchor="middle" fill="#262626" >1980</text><line x1="343.09" y1="718.4" x2="343.09" y2="721.8" stroke="#333333" stroke-width="0.9"/><text x="343.09" y="731.15" font-size="7.85" font-weight="normal" text-anchor="middle" fill="#262626" >1990</text><line x1="378.88" y1="718.4" x2="378.88" y2="721.8" stroke="#333333" stroke-width="0.9"/><text x="378.88" y="731.15" font-size="7.85" font-weight="normal" text-anchor="middle" fill="#262626" >2000</text><line x1="414.67" y1="718.4" x2="414.67" y2="721.8" stroke="#333333" stroke-width="0.9"/><text x="414.67" y="731.15" font-size="7.85" font-weight="normal" text-anchor="middle" fill="#262626" >2010</text><line x1="450.46" y1="718.4" x2="450.46" y2="721.8" stroke="#333333" stroke-width="0.9"/><text x="450.46" y="731.15" font-size="7.85" font-weight="normal" text-anchor="middle" fill="#262626" >2020</text><rect x="219.0" y="644.67" width="53.0" height="73.73" fill="#e5e88a"/><rect x="219.0" y="603.87" width="53.0" height="40.80" fill="#c43a9b"/><rect x="219.0" y="599.10" width="53.0" height="4.77" fill="#f688f6"/><text x="245.50" y="684.64" font-size="7.45" text-anchor="middle" fill="#2a2a2a" stroke="#fff" stroke-width="1.7" stroke-linejoin="round" paint-order="stroke">61.8%</text><text x="245.50" y="627.37" font-size="7.45" text-anchor="middle" fill="#2a2a2a" stroke="#fff" stroke-width="1.7" stroke-linejoin="round" paint-order="stroke">34.2%</text><line x1="219.0" y1="599.1" x2="219.0" y2="718.8" stroke="#333333" stroke-width="0.9"/><line x1="219.0" y1="718.4" x2="272.0" y2="718.4" stroke="#333333" stroke-width="0.9"/><rect x="501.0" y="621.65" width="51.0" height="96.75" fill="#e5e88a"/><rect x="501.0" y="608.05" width="51.0" height="13.60" fill="#c43a9b"/><rect x="501.0" y="599.10" width="51.0" height="8.95" fill="#f688f6"/><text x="526.50" y="673.12" font-size="7.45" text-anchor="middle" fill="#2a2a2a" stroke="#fff" stroke-width="1.7" stroke-linejoin="round" paint-order="stroke">81.1%</text><text x="526.50" y="617.95" font-size="7.45" text-anchor="middle" fill="#2a2a2a" stroke="#fff" stroke-width="1.7" stroke-linejoin="round" paint-order="stroke">11.4%</text><text x="526.50" y="606.67" font-size="7.45" text-anchor="middle" fill="#2a2a2a" stroke="#fff" stroke-width="1.7" stroke-linejoin="round" paint-order="stroke">7.6%</text><line x1="501.0" y1="599.1" x2="501.0" y2="718.8" stroke="#333333" stroke-width="0.9"/><line x1="501.0" y1="718.4" x2="552.0" y2="718.4" stroke="#333333" stroke-width="0.9"/><text x="563.50" y="649.70" font-size="8.05" font-weight="bold" text-anchor="start" fill="#1a1a1a" >Target species</text><circle cx="567" cy="661.60" r="2.6" fill="#e5e88a" stroke="#000" stroke-width="0.95"/><text x="578.80" y="663.95" font-size="6.65" font-weight="normal" text-anchor="start" fill="#262626" >Large pelagics</text><circle cx="567" cy="669.22" r="2.6" fill="#c43a9b" stroke="#000" stroke-width="0.95"/><text x="578.80" y="671.57" font-size="6.65" font-weight="normal" text-anchor="start" fill="#262626" >Demersal species</text><circle cx="567" cy="676.84" r="2.6" fill="#f688f6" stroke="#000" stroke-width="0.95"/><text x="578.80" y="679.19" font-size="6.65" font-weight="normal" text-anchor="start" fill="#262626" >Small pelagics</text></svg></body></html>
